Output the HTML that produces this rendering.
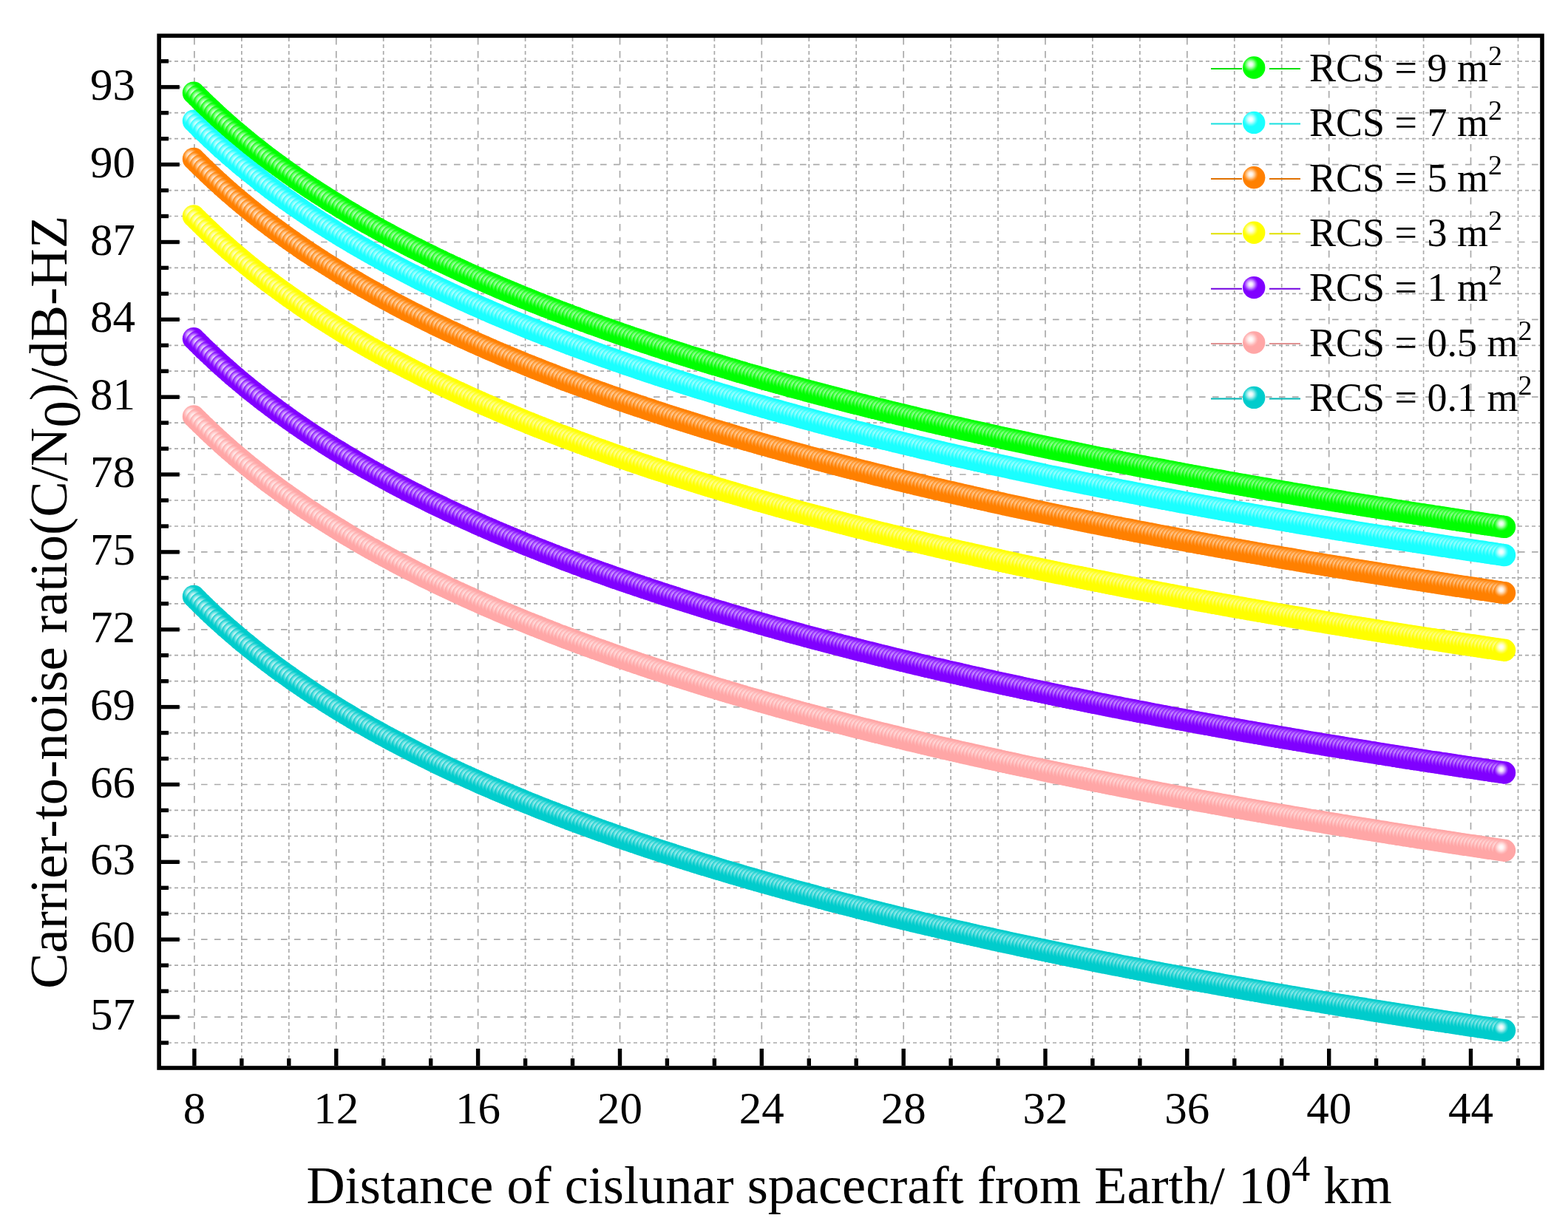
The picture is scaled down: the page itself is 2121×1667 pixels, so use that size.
<!DOCTYPE html><html><head><meta charset="utf-8"><title>Carrier-to-noise ratio vs distance</title><style>html,body{margin:0;padding:0;background:#fff;width:2121px;height:1667px;overflow:hidden}svg{display:block}text{font-family:"Liberation Serif","Times New Roman",serif;fill:#000}</style></head><body>
<svg width="2121" height="1667" viewBox="0 0 2121 1667">
<defs>
<radialGradient id="rg" cx="0.355" cy="0.355" r="0.5" fx="0.355" fy="0.355"><stop offset="0" stop-color="#ffffff"/><stop offset="0.18" stop-color="#e0ffe0"/><stop offset="0.36" stop-color="#8cff8c"/><stop offset="0.52" stop-color="#33ff33"/><stop offset="0.66" stop-color="#00ff00"/><stop offset="1" stop-color="#00ff00"/></radialGradient>
<radialGradient id="rc" cx="0.355" cy="0.355" r="0.5" fx="0.355" fy="0.355"><stop offset="0" stop-color="#ffffff"/><stop offset="0.18" stop-color="#e4ffff"/><stop offset="0.36" stop-color="#98ffff"/><stop offset="0.52" stop-color="#48ffff"/><stop offset="0.66" stop-color="#1affff"/><stop offset="1" stop-color="#1affff"/></radialGradient>
<radialGradient id="ro" cx="0.355" cy="0.355" r="0.5" fx="0.355" fy="0.355"><stop offset="0" stop-color="#ffffff"/><stop offset="0.18" stop-color="#fff0e0"/><stop offset="0.36" stop-color="#ffc68c"/><stop offset="0.52" stop-color="#ff9933"/><stop offset="0.66" stop-color="#ff8000"/><stop offset="1" stop-color="#ff8000"/></radialGradient>
<radialGradient id="ry" cx="0.355" cy="0.355" r="0.5" fx="0.355" fy="0.355"><stop offset="0" stop-color="#ffffff"/><stop offset="0.18" stop-color="#ffffe0"/><stop offset="0.36" stop-color="#ffff8c"/><stop offset="0.52" stop-color="#ffff33"/><stop offset="0.66" stop-color="#ffff00"/><stop offset="1" stop-color="#ffff00"/></radialGradient>
<radialGradient id="rp" cx="0.355" cy="0.355" r="0.5" fx="0.355" fy="0.355"><stop offset="0" stop-color="#ffffff"/><stop offset="0.18" stop-color="#f0e0ff"/><stop offset="0.36" stop-color="#c68cff"/><stop offset="0.52" stop-color="#9933ff"/><stop offset="0.66" stop-color="#8000ff"/><stop offset="1" stop-color="#8000ff"/></radialGradient>
<radialGradient id="rk" cx="0.355" cy="0.355" r="0.5" fx="0.355" fy="0.355"><stop offset="0" stop-color="#ffffff"/><stop offset="0.18" stop-color="#fff4f4"/><stop offset="0.36" stop-color="#ffd7d7"/><stop offset="0.52" stop-color="#ffb8b8"/><stop offset="0.66" stop-color="#ffa6a6"/><stop offset="1" stop-color="#ffa6a6"/></radialGradient>
<radialGradient id="rt" cx="0.355" cy="0.355" r="0.5" fx="0.355" fy="0.355"><stop offset="0" stop-color="#ffffff"/><stop offset="0.18" stop-color="#e0f9f9"/><stop offset="0.36" stop-color="#8ce8e8"/><stop offset="0.52" stop-color="#33d6d6"/><stop offset="0.66" stop-color="#00cccc"/><stop offset="1" stop-color="#00cccc"/></radialGradient>
</defs>
<g stroke="#aaaaaa" stroke-width="1.7" fill="none">
<line x1="262.9" y1="51.1" x2="262.9" y2="1442.2" stroke-dasharray="9.4 8.6"/>
<line x1="454.8" y1="51.1" x2="454.8" y2="1442.2" stroke-dasharray="9.4 8.6"/>
<line x1="646.6" y1="51.1" x2="646.6" y2="1442.2" stroke-dasharray="9.4 8.6"/>
<line x1="838.5" y1="51.1" x2="838.5" y2="1442.2" stroke-dasharray="9.4 8.6"/>
<line x1="1030.3" y1="51.1" x2="1030.3" y2="1442.2" stroke-dasharray="9.4 8.6"/>
<line x1="1222.2" y1="51.1" x2="1222.2" y2="1442.2" stroke-dasharray="9.4 8.6"/>
<line x1="1414.0" y1="51.1" x2="1414.0" y2="1442.2" stroke-dasharray="9.4 8.6"/>
<line x1="1605.8" y1="51.1" x2="1605.8" y2="1442.2" stroke-dasharray="9.4 8.6"/>
<line x1="1797.7" y1="51.1" x2="1797.7" y2="1442.2" stroke-dasharray="9.4 8.6"/>
<line x1="1989.5" y1="51.1" x2="1989.5" y2="1442.2" stroke-dasharray="9.4 8.6"/>
<line x1="326.9" y1="51.1" x2="326.9" y2="1442.2" stroke-dasharray="4.8 4.2"/>
<line x1="390.8" y1="51.1" x2="390.8" y2="1442.2" stroke-dasharray="4.8 4.2"/>
<line x1="518.7" y1="51.1" x2="518.7" y2="1442.2" stroke-dasharray="4.8 4.2"/>
<line x1="582.7" y1="51.1" x2="582.7" y2="1442.2" stroke-dasharray="4.8 4.2"/>
<line x1="710.6" y1="51.1" x2="710.6" y2="1442.2" stroke-dasharray="4.8 4.2"/>
<line x1="774.5" y1="51.1" x2="774.5" y2="1442.2" stroke-dasharray="4.8 4.2"/>
<line x1="902.4" y1="51.1" x2="902.4" y2="1442.2" stroke-dasharray="4.8 4.2"/>
<line x1="966.4" y1="51.1" x2="966.4" y2="1442.2" stroke-dasharray="4.8 4.2"/>
<line x1="1094.3" y1="51.1" x2="1094.3" y2="1442.2" stroke-dasharray="4.8 4.2"/>
<line x1="1158.2" y1="51.1" x2="1158.2" y2="1442.2" stroke-dasharray="4.8 4.2"/>
<line x1="1286.1" y1="51.1" x2="1286.1" y2="1442.2" stroke-dasharray="4.8 4.2"/>
<line x1="1350.0" y1="51.1" x2="1350.0" y2="1442.2" stroke-dasharray="4.8 4.2"/>
<line x1="1477.9" y1="51.1" x2="1477.9" y2="1442.2" stroke-dasharray="4.8 4.2"/>
<line x1="1541.9" y1="51.1" x2="1541.9" y2="1442.2" stroke-dasharray="4.8 4.2"/>
<line x1="1669.8" y1="51.1" x2="1669.8" y2="1442.2" stroke-dasharray="4.8 4.2"/>
<line x1="1733.7" y1="51.1" x2="1733.7" y2="1442.2" stroke-dasharray="4.8 4.2"/>
<line x1="1861.6" y1="51.1" x2="1861.6" y2="1442.2" stroke-dasharray="4.8 4.2"/>
<line x1="1925.6" y1="51.1" x2="1925.6" y2="1442.2" stroke-dasharray="4.8 4.2"/>
<line x1="2053.5" y1="51.1" x2="2053.5" y2="1442.2" stroke-dasharray="4.8 4.2"/>
<line x1="218.0" y1="1376.1" x2="2083.2" y2="1376.1" stroke-dasharray="8.6 9.4"/>
<line x1="218.0" y1="1271.2" x2="2083.2" y2="1271.2" stroke-dasharray="8.6 9.4"/>
<line x1="218.0" y1="1166.3" x2="2083.2" y2="1166.3" stroke-dasharray="8.6 9.4"/>
<line x1="218.0" y1="1061.5" x2="2083.2" y2="1061.5" stroke-dasharray="8.6 9.4"/>
<line x1="218.0" y1="956.6" x2="2083.2" y2="956.6" stroke-dasharray="8.6 9.4"/>
<line x1="218.0" y1="851.8" x2="2083.2" y2="851.8" stroke-dasharray="8.6 9.4"/>
<line x1="218.0" y1="746.9" x2="2083.2" y2="746.9" stroke-dasharray="8.6 9.4"/>
<line x1="218.0" y1="642.0" x2="2083.2" y2="642.0" stroke-dasharray="8.6 9.4"/>
<line x1="218.0" y1="537.2" x2="2083.2" y2="537.2" stroke-dasharray="8.6 9.4"/>
<line x1="218.0" y1="432.3" x2="2083.2" y2="432.3" stroke-dasharray="8.6 9.4"/>
<line x1="218.0" y1="327.5" x2="2083.2" y2="327.5" stroke-dasharray="8.6 9.4"/>
<line x1="218.0" y1="222.6" x2="2083.2" y2="222.6" stroke-dasharray="8.6 9.4"/>
<line x1="218.0" y1="117.8" x2="2083.2" y2="117.8" stroke-dasharray="8.6 9.4"/>
<line x1="218.0" y1="1411.0" x2="2083.2" y2="1411.0" stroke-dasharray="5 4"/>
<line x1="218.0" y1="1341.1" x2="2083.2" y2="1341.1" stroke-dasharray="5 4"/>
<line x1="218.0" y1="1306.2" x2="2083.2" y2="1306.2" stroke-dasharray="5 4"/>
<line x1="218.0" y1="1236.2" x2="2083.2" y2="1236.2" stroke-dasharray="5 4"/>
<line x1="218.0" y1="1201.3" x2="2083.2" y2="1201.3" stroke-dasharray="5 4"/>
<line x1="218.0" y1="1131.4" x2="2083.2" y2="1131.4" stroke-dasharray="5 4"/>
<line x1="218.0" y1="1096.4" x2="2083.2" y2="1096.4" stroke-dasharray="5 4"/>
<line x1="218.0" y1="1026.5" x2="2083.2" y2="1026.5" stroke-dasharray="5 4"/>
<line x1="218.0" y1="991.6" x2="2083.2" y2="991.6" stroke-dasharray="5 4"/>
<line x1="218.0" y1="921.7" x2="2083.2" y2="921.7" stroke-dasharray="5 4"/>
<line x1="218.0" y1="886.7" x2="2083.2" y2="886.7" stroke-dasharray="5 4"/>
<line x1="218.0" y1="816.8" x2="2083.2" y2="816.8" stroke-dasharray="5 4"/>
<line x1="218.0" y1="781.9" x2="2083.2" y2="781.9" stroke-dasharray="5 4"/>
<line x1="218.0" y1="712.0" x2="2083.2" y2="712.0" stroke-dasharray="5 4"/>
<line x1="218.0" y1="677.0" x2="2083.2" y2="677.0" stroke-dasharray="5 4"/>
<line x1="218.0" y1="607.1" x2="2083.2" y2="607.1" stroke-dasharray="5 4"/>
<line x1="218.0" y1="572.1" x2="2083.2" y2="572.1" stroke-dasharray="5 4"/>
<line x1="218.0" y1="502.2" x2="2083.2" y2="502.2" stroke-dasharray="5 4"/>
<line x1="218.0" y1="467.3" x2="2083.2" y2="467.3" stroke-dasharray="5 4"/>
<line x1="218.0" y1="397.4" x2="2083.2" y2="397.4" stroke-dasharray="5 4"/>
<line x1="218.0" y1="362.4" x2="2083.2" y2="362.4" stroke-dasharray="5 4"/>
<line x1="218.0" y1="292.5" x2="2083.2" y2="292.5" stroke-dasharray="5 4"/>
<line x1="218.0" y1="257.6" x2="2083.2" y2="257.6" stroke-dasharray="5 4"/>
<line x1="218.0" y1="187.7" x2="2083.2" y2="187.7" stroke-dasharray="5 4"/>
<line x1="218.0" y1="152.7" x2="2083.2" y2="152.7" stroke-dasharray="5 4"/>
<line x1="218.0" y1="82.8" x2="2083.2" y2="82.8" stroke-dasharray="5 4"/>
</g>
<g fill="url(#rt)">
<circle cx="262.0" cy="807.0" r="15.2"/><circle cx="266.8" cy="811.8" r="15.2"/><circle cx="271.6" cy="816.6" r="15.2"/><circle cx="276.4" cy="821.3" r="15.2"/><circle cx="281.2" cy="825.9" r="15.2"/><circle cx="286.0" cy="830.4" r="15.2"/><circle cx="290.8" cy="834.9" r="15.2"/><circle cx="295.5" cy="839.3" r="15.2"/><circle cx="300.3" cy="843.6" r="15.2"/><circle cx="305.1" cy="847.9" r="15.2"/><circle cx="309.9" cy="852.1" r="15.2"/><circle cx="314.7" cy="856.2" r="15.2"/><circle cx="319.5" cy="860.3" r="15.2"/><circle cx="324.3" cy="864.4" r="15.2"/><circle cx="329.1" cy="868.4" r="15.2"/><circle cx="333.9" cy="872.3" r="15.2"/><circle cx="338.7" cy="876.2" r="15.2"/><circle cx="343.5" cy="880.1" r="15.2"/><circle cx="348.3" cy="883.9" r="15.2"/><circle cx="353.0" cy="887.6" r="15.2"/><circle cx="357.8" cy="891.3" r="15.2"/><circle cx="362.6" cy="895.0" r="15.2"/><circle cx="367.4" cy="898.6" r="15.2"/><circle cx="372.2" cy="902.2" r="15.2"/><circle cx="377.0" cy="905.7" r="15.2"/><circle cx="381.8" cy="909.2" r="15.2"/><circle cx="386.6" cy="912.6" r="15.2"/><circle cx="391.4" cy="916.0" r="15.2"/><circle cx="396.2" cy="919.4" r="15.2"/><circle cx="401.0" cy="922.7" r="15.2"/><circle cx="405.8" cy="926.0" r="15.2"/><circle cx="410.5" cy="929.3" r="15.2"/><circle cx="415.3" cy="932.5" r="15.2"/><circle cx="420.1" cy="935.7" r="15.2"/><circle cx="424.9" cy="938.9" r="15.2"/><circle cx="429.7" cy="942.0" r="15.2"/><circle cx="434.5" cy="945.1" r="15.2"/><circle cx="439.3" cy="948.2" r="15.2"/><circle cx="444.1" cy="951.2" r="15.2"/><circle cx="448.9" cy="954.2" r="15.2"/><circle cx="453.7" cy="957.2" r="15.2"/><circle cx="458.5" cy="960.2" r="15.2"/><circle cx="463.3" cy="963.1" r="15.2"/><circle cx="468.1" cy="966.0" r="15.2"/><circle cx="472.8" cy="968.8" r="15.2"/><circle cx="477.6" cy="971.7" r="15.2"/><circle cx="482.4" cy="974.5" r="15.2"/><circle cx="487.2" cy="977.3" r="15.2"/><circle cx="492.0" cy="980.0" r="15.2"/><circle cx="496.8" cy="982.8" r="15.2"/><circle cx="501.6" cy="985.5" r="15.2"/><circle cx="506.4" cy="988.2" r="15.2"/><circle cx="511.2" cy="990.8" r="15.2"/><circle cx="516.0" cy="993.5" r="15.2"/><circle cx="520.8" cy="996.1" r="15.2"/><circle cx="525.6" cy="998.7" r="15.2"/><circle cx="530.3" cy="1001.2" r="15.2"/><circle cx="535.1" cy="1003.8" r="15.2"/><circle cx="539.9" cy="1006.3" r="15.2"/><circle cx="544.7" cy="1008.8" r="15.2"/><circle cx="549.5" cy="1011.3" r="15.2"/><circle cx="554.3" cy="1013.8" r="15.2"/><circle cx="559.1" cy="1016.2" r="15.2"/><circle cx="563.9" cy="1018.7" r="15.2"/><circle cx="568.7" cy="1021.1" r="15.2"/><circle cx="573.5" cy="1023.5" r="15.2"/><circle cx="578.3" cy="1025.8" r="15.2"/><circle cx="583.1" cy="1028.2" r="15.2"/><circle cx="587.8" cy="1030.5" r="15.2"/><circle cx="592.6" cy="1032.9" r="15.2"/><circle cx="597.4" cy="1035.2" r="15.2"/><circle cx="602.2" cy="1037.4" r="15.2"/><circle cx="607.0" cy="1039.7" r="15.2"/><circle cx="611.8" cy="1041.9" r="15.2"/><circle cx="616.6" cy="1044.2" r="15.2"/><circle cx="621.4" cy="1046.4" r="15.2"/><circle cx="626.2" cy="1048.6" r="15.2"/><circle cx="631.0" cy="1050.8" r="15.2"/><circle cx="635.8" cy="1052.9" r="15.2"/><circle cx="640.6" cy="1055.1" r="15.2"/><circle cx="645.4" cy="1057.2" r="15.2"/><circle cx="650.1" cy="1059.4" r="15.2"/><circle cx="654.9" cy="1061.5" r="15.2"/><circle cx="659.7" cy="1063.6" r="15.2"/><circle cx="664.5" cy="1065.6" r="15.2"/><circle cx="669.3" cy="1067.7" r="15.2"/><circle cx="674.1" cy="1069.8" r="15.2"/><circle cx="678.9" cy="1071.8" r="15.2"/><circle cx="683.7" cy="1073.8" r="15.2"/><circle cx="688.5" cy="1075.8" r="15.2"/><circle cx="693.3" cy="1077.8" r="15.2"/><circle cx="698.1" cy="1079.8" r="15.2"/><circle cx="702.9" cy="1081.8" r="15.2"/><circle cx="707.6" cy="1083.7" r="15.2"/><circle cx="712.4" cy="1085.7" r="15.2"/><circle cx="717.2" cy="1087.6" r="15.2"/><circle cx="722.0" cy="1089.5" r="15.2"/><circle cx="726.8" cy="1091.5" r="15.2"/><circle cx="731.6" cy="1093.4" r="15.2"/><circle cx="736.4" cy="1095.2" r="15.2"/><circle cx="741.2" cy="1097.1" r="15.2"/><circle cx="746.0" cy="1099.0" r="15.2"/><circle cx="750.8" cy="1100.8" r="15.2"/><circle cx="755.6" cy="1102.7" r="15.2"/><circle cx="760.4" cy="1104.5" r="15.2"/><circle cx="765.1" cy="1106.3" r="15.2"/><circle cx="769.9" cy="1108.1" r="15.2"/><circle cx="774.7" cy="1109.9" r="15.2"/><circle cx="779.5" cy="1111.7" r="15.2"/><circle cx="784.3" cy="1113.5" r="15.2"/><circle cx="789.1" cy="1115.2" r="15.2"/><circle cx="793.9" cy="1117.0" r="15.2"/><circle cx="798.7" cy="1118.7" r="15.2"/><circle cx="803.5" cy="1120.5" r="15.2"/><circle cx="808.3" cy="1122.2" r="15.2"/><circle cx="813.1" cy="1123.9" r="15.2"/><circle cx="817.9" cy="1125.6" r="15.2"/><circle cx="822.7" cy="1127.3" r="15.2"/><circle cx="827.4" cy="1129.0" r="15.2"/><circle cx="832.2" cy="1130.7" r="15.2"/><circle cx="837.0" cy="1132.4" r="15.2"/><circle cx="841.8" cy="1134.0" r="15.2"/><circle cx="846.6" cy="1135.7" r="15.2"/><circle cx="851.4" cy="1137.3" r="15.2"/><circle cx="856.2" cy="1138.9" r="15.2"/><circle cx="861.0" cy="1140.6" r="15.2"/><circle cx="865.8" cy="1142.2" r="15.2"/><circle cx="870.6" cy="1143.8" r="15.2"/><circle cx="875.4" cy="1145.4" r="15.2"/><circle cx="880.2" cy="1147.0" r="15.2"/><circle cx="884.9" cy="1148.5" r="15.2"/><circle cx="889.7" cy="1150.1" r="15.2"/><circle cx="894.5" cy="1151.7" r="15.2"/><circle cx="899.3" cy="1153.2" r="15.2"/><circle cx="904.1" cy="1154.8" r="15.2"/><circle cx="908.9" cy="1156.3" r="15.2"/><circle cx="913.7" cy="1157.9" r="15.2"/><circle cx="918.5" cy="1159.4" r="15.2"/><circle cx="923.3" cy="1160.9" r="15.2"/><circle cx="928.1" cy="1162.4" r="15.2"/><circle cx="932.9" cy="1163.9" r="15.2"/><circle cx="937.7" cy="1165.4" r="15.2"/><circle cx="942.4" cy="1166.9" r="15.2"/><circle cx="947.2" cy="1168.4" r="15.2"/><circle cx="952.0" cy="1169.9" r="15.2"/><circle cx="956.8" cy="1171.3" r="15.2"/><circle cx="961.6" cy="1172.8" r="15.2"/><circle cx="966.4" cy="1174.2" r="15.2"/><circle cx="971.2" cy="1175.7" r="15.2"/><circle cx="976.0" cy="1177.1" r="15.2"/><circle cx="980.8" cy="1178.6" r="15.2"/><circle cx="985.6" cy="1180.0" r="15.2"/><circle cx="990.4" cy="1181.4" r="15.2"/><circle cx="995.2" cy="1182.8" r="15.2"/><circle cx="1000.0" cy="1184.2" r="15.2"/><circle cx="1004.7" cy="1185.6" r="15.2"/><circle cx="1009.5" cy="1187.0" r="15.2"/><circle cx="1014.3" cy="1188.4" r="15.2"/><circle cx="1019.1" cy="1189.8" r="15.2"/><circle cx="1023.9" cy="1191.2" r="15.2"/><circle cx="1028.7" cy="1192.5" r="15.2"/><circle cx="1033.5" cy="1193.9" r="15.2"/><circle cx="1038.3" cy="1195.2" r="15.2"/><circle cx="1043.1" cy="1196.6" r="15.2"/><circle cx="1047.9" cy="1197.9" r="15.2"/><circle cx="1052.7" cy="1199.3" r="15.2"/><circle cx="1057.5" cy="1200.6" r="15.2"/><circle cx="1062.2" cy="1201.9" r="15.2"/><circle cx="1067.0" cy="1203.2" r="15.2"/><circle cx="1071.8" cy="1204.6" r="15.2"/><circle cx="1076.6" cy="1205.9" r="15.2"/><circle cx="1081.4" cy="1207.2" r="15.2"/><circle cx="1086.2" cy="1208.5" r="15.2"/><circle cx="1091.0" cy="1209.8" r="15.2"/><circle cx="1095.8" cy="1211.0" r="15.2"/><circle cx="1100.6" cy="1212.3" r="15.2"/><circle cx="1105.4" cy="1213.6" r="15.2"/><circle cx="1110.2" cy="1214.9" r="15.2"/><circle cx="1115.0" cy="1216.1" r="15.2"/><circle cx="1119.7" cy="1217.4" r="15.2"/><circle cx="1124.5" cy="1218.7" r="15.2"/><circle cx="1129.3" cy="1219.9" r="15.2"/><circle cx="1134.1" cy="1221.1" r="15.2"/><circle cx="1138.9" cy="1222.4" r="15.2"/><circle cx="1143.7" cy="1223.6" r="15.2"/><circle cx="1148.5" cy="1224.8" r="15.2"/><circle cx="1153.3" cy="1226.1" r="15.2"/><circle cx="1158.1" cy="1227.3" r="15.2"/><circle cx="1162.9" cy="1228.5" r="15.2"/><circle cx="1167.7" cy="1229.7" r="15.2"/><circle cx="1172.5" cy="1230.9" r="15.2"/><circle cx="1177.3" cy="1232.1" r="15.2"/><circle cx="1182.0" cy="1233.3" r="15.2"/><circle cx="1186.8" cy="1234.5" r="15.2"/><circle cx="1191.6" cy="1235.7" r="15.2"/><circle cx="1196.4" cy="1236.9" r="15.2"/><circle cx="1201.2" cy="1238.0" r="15.2"/><circle cx="1206.0" cy="1239.2" r="15.2"/><circle cx="1210.8" cy="1240.4" r="15.2"/><circle cx="1215.6" cy="1241.6" r="15.2"/><circle cx="1220.4" cy="1242.7" r="15.2"/><circle cx="1225.2" cy="1243.9" r="15.2"/><circle cx="1230.0" cy="1245.0" r="15.2"/><circle cx="1234.8" cy="1246.2" r="15.2"/><circle cx="1239.5" cy="1247.3" r="15.2"/><circle cx="1244.3" cy="1248.4" r="15.2"/><circle cx="1249.1" cy="1249.6" r="15.2"/><circle cx="1253.9" cy="1250.7" r="15.2"/><circle cx="1258.7" cy="1251.8" r="15.2"/><circle cx="1263.5" cy="1252.9" r="15.2"/><circle cx="1268.3" cy="1254.1" r="15.2"/><circle cx="1273.1" cy="1255.2" r="15.2"/><circle cx="1277.9" cy="1256.3" r="15.2"/><circle cx="1282.7" cy="1257.4" r="15.2"/><circle cx="1287.5" cy="1258.5" r="15.2"/><circle cx="1292.3" cy="1259.6" r="15.2"/><circle cx="1297.0" cy="1260.7" r="15.2"/><circle cx="1301.8" cy="1261.8" r="15.2"/><circle cx="1306.6" cy="1262.8" r="15.2"/><circle cx="1311.4" cy="1263.9" r="15.2"/><circle cx="1316.2" cy="1265.0" r="15.2"/><circle cx="1321.0" cy="1266.1" r="15.2"/><circle cx="1325.8" cy="1267.1" r="15.2"/><circle cx="1330.6" cy="1268.2" r="15.2"/><circle cx="1335.4" cy="1269.3" r="15.2"/><circle cx="1340.2" cy="1270.3" r="15.2"/><circle cx="1345.0" cy="1271.4" r="15.2"/><circle cx="1349.8" cy="1272.4" r="15.2"/><circle cx="1354.6" cy="1273.5" r="15.2"/><circle cx="1359.3" cy="1274.5" r="15.2"/><circle cx="1364.1" cy="1275.6" r="15.2"/><circle cx="1368.9" cy="1276.6" r="15.2"/><circle cx="1373.7" cy="1277.6" r="15.2"/><circle cx="1378.5" cy="1278.7" r="15.2"/><circle cx="1383.3" cy="1279.7" r="15.2"/><circle cx="1388.1" cy="1280.7" r="15.2"/><circle cx="1392.9" cy="1281.7" r="15.2"/><circle cx="1397.7" cy="1282.7" r="15.2"/><circle cx="1402.5" cy="1283.8" r="15.2"/><circle cx="1407.3" cy="1284.8" r="15.2"/><circle cx="1412.1" cy="1285.8" r="15.2"/><circle cx="1416.8" cy="1286.8" r="15.2"/><circle cx="1421.6" cy="1287.8" r="15.2"/><circle cx="1426.4" cy="1288.8" r="15.2"/><circle cx="1431.2" cy="1289.8" r="15.2"/><circle cx="1436.0" cy="1290.7" r="15.2"/><circle cx="1440.8" cy="1291.7" r="15.2"/><circle cx="1445.6" cy="1292.7" r="15.2"/><circle cx="1450.4" cy="1293.7" r="15.2"/><circle cx="1455.2" cy="1294.7" r="15.2"/><circle cx="1460.0" cy="1295.6" r="15.2"/><circle cx="1464.8" cy="1296.6" r="15.2"/><circle cx="1469.6" cy="1297.6" r="15.2"/><circle cx="1474.3" cy="1298.5" r="15.2"/><circle cx="1479.1" cy="1299.5" r="15.2"/><circle cx="1483.9" cy="1300.5" r="15.2"/><circle cx="1488.7" cy="1301.4" r="15.2"/><circle cx="1493.5" cy="1302.4" r="15.2"/><circle cx="1498.3" cy="1303.3" r="15.2"/><circle cx="1503.1" cy="1304.3" r="15.2"/><circle cx="1507.9" cy="1305.2" r="15.2"/><circle cx="1512.7" cy="1306.1" r="15.2"/><circle cx="1517.5" cy="1307.1" r="15.2"/><circle cx="1522.3" cy="1308.0" r="15.2"/><circle cx="1527.1" cy="1308.9" r="15.2"/><circle cx="1531.9" cy="1309.9" r="15.2"/><circle cx="1536.6" cy="1310.8" r="15.2"/><circle cx="1541.4" cy="1311.7" r="15.2"/><circle cx="1546.2" cy="1312.6" r="15.2"/><circle cx="1551.0" cy="1313.6" r="15.2"/><circle cx="1555.8" cy="1314.5" r="15.2"/><circle cx="1560.6" cy="1315.4" r="15.2"/><circle cx="1565.4" cy="1316.3" r="15.2"/><circle cx="1570.2" cy="1317.2" r="15.2"/><circle cx="1575.0" cy="1318.1" r="15.2"/><circle cx="1579.8" cy="1319.0" r="15.2"/><circle cx="1584.6" cy="1319.9" r="15.2"/><circle cx="1589.4" cy="1320.8" r="15.2"/><circle cx="1594.1" cy="1321.7" r="15.2"/><circle cx="1598.9" cy="1322.6" r="15.2"/><circle cx="1603.7" cy="1323.5" r="15.2"/><circle cx="1608.5" cy="1324.4" r="15.2"/><circle cx="1613.3" cy="1325.2" r="15.2"/><circle cx="1618.1" cy="1326.1" r="15.2"/><circle cx="1622.9" cy="1327.0" r="15.2"/><circle cx="1627.7" cy="1327.9" r="15.2"/><circle cx="1632.5" cy="1328.7" r="15.2"/><circle cx="1637.3" cy="1329.6" r="15.2"/><circle cx="1642.1" cy="1330.5" r="15.2"/><circle cx="1646.9" cy="1331.3" r="15.2"/><circle cx="1651.6" cy="1332.2" r="15.2"/><circle cx="1656.4" cy="1333.1" r="15.2"/><circle cx="1661.2" cy="1333.9" r="15.2"/><circle cx="1666.0" cy="1334.8" r="15.2"/><circle cx="1670.8" cy="1335.6" r="15.2"/><circle cx="1675.6" cy="1336.5" r="15.2"/><circle cx="1680.4" cy="1337.3" r="15.2"/><circle cx="1685.2" cy="1338.2" r="15.2"/><circle cx="1690.0" cy="1339.0" r="15.2"/><circle cx="1694.8" cy="1339.9" r="15.2"/><circle cx="1699.6" cy="1340.7" r="15.2"/><circle cx="1704.4" cy="1341.5" r="15.2"/><circle cx="1709.2" cy="1342.4" r="15.2"/><circle cx="1713.9" cy="1343.2" r="15.2"/><circle cx="1718.7" cy="1344.0" r="15.2"/><circle cx="1723.5" cy="1344.9" r="15.2"/><circle cx="1728.3" cy="1345.7" r="15.2"/><circle cx="1733.1" cy="1346.5" r="15.2"/><circle cx="1737.9" cy="1347.3" r="15.2"/><circle cx="1742.7" cy="1348.1" r="15.2"/><circle cx="1747.5" cy="1349.0" r="15.2"/><circle cx="1752.3" cy="1349.8" r="15.2"/><circle cx="1757.1" cy="1350.6" r="15.2"/><circle cx="1761.9" cy="1351.4" r="15.2"/><circle cx="1766.7" cy="1352.2" r="15.2"/><circle cx="1771.4" cy="1353.0" r="15.2"/><circle cx="1776.2" cy="1353.8" r="15.2"/><circle cx="1781.0" cy="1354.6" r="15.2"/><circle cx="1785.8" cy="1355.4" r="15.2"/><circle cx="1790.6" cy="1356.2" r="15.2"/><circle cx="1795.4" cy="1357.0" r="15.2"/><circle cx="1800.2" cy="1357.8" r="15.2"/><circle cx="1805.0" cy="1358.6" r="15.2"/><circle cx="1809.8" cy="1359.4" r="15.2"/><circle cx="1814.6" cy="1360.2" r="15.2"/><circle cx="1819.4" cy="1361.0" r="15.2"/><circle cx="1824.2" cy="1361.7" r="15.2"/><circle cx="1828.9" cy="1362.5" r="15.2"/><circle cx="1833.7" cy="1363.3" r="15.2"/><circle cx="1838.5" cy="1364.1" r="15.2"/><circle cx="1843.3" cy="1364.8" r="15.2"/><circle cx="1848.1" cy="1365.6" r="15.2"/><circle cx="1852.9" cy="1366.4" r="15.2"/><circle cx="1857.7" cy="1367.2" r="15.2"/><circle cx="1862.5" cy="1367.9" r="15.2"/><circle cx="1867.3" cy="1368.7" r="15.2"/><circle cx="1872.1" cy="1369.4" r="15.2"/><circle cx="1876.9" cy="1370.2" r="15.2"/><circle cx="1881.7" cy="1371.0" r="15.2"/><circle cx="1886.5" cy="1371.7" r="15.2"/><circle cx="1891.2" cy="1372.5" r="15.2"/><circle cx="1896.0" cy="1373.2" r="15.2"/><circle cx="1900.8" cy="1374.0" r="15.2"/><circle cx="1905.6" cy="1374.7" r="15.2"/><circle cx="1910.4" cy="1375.5" r="15.2"/><circle cx="1915.2" cy="1376.2" r="15.2"/><circle cx="1920.0" cy="1377.0" r="15.2"/><circle cx="1924.8" cy="1377.7" r="15.2"/><circle cx="1929.6" cy="1378.5" r="15.2"/><circle cx="1934.4" cy="1379.2" r="15.2"/><circle cx="1939.2" cy="1379.9" r="15.2"/><circle cx="1944.0" cy="1380.7" r="15.2"/><circle cx="1948.7" cy="1381.4" r="15.2"/><circle cx="1953.5" cy="1382.1" r="15.2"/><circle cx="1958.3" cy="1382.9" r="15.2"/><circle cx="1963.1" cy="1383.6" r="15.2"/><circle cx="1967.9" cy="1384.3" r="15.2"/><circle cx="1972.7" cy="1385.0" r="15.2"/><circle cx="1977.5" cy="1385.8" r="15.2"/><circle cx="1982.3" cy="1386.5" r="15.2"/><circle cx="1987.1" cy="1387.2" r="15.2"/><circle cx="1991.9" cy="1387.9" r="15.2"/><circle cx="1996.7" cy="1388.6" r="15.2"/><circle cx="2001.5" cy="1389.4" r="15.2"/><circle cx="2006.2" cy="1390.1" r="15.2"/><circle cx="2011.0" cy="1390.8" r="15.2"/><circle cx="2015.8" cy="1391.5" r="15.2"/><circle cx="2020.6" cy="1392.2" r="15.2"/><circle cx="2025.4" cy="1392.9" r="15.2"/><circle cx="2030.2" cy="1393.6" r="15.2"/><circle cx="2035.0" cy="1394.3" r="15.2"/>
</g>
<g fill="url(#rk)">
<circle cx="262.0" cy="563.4" r="15.2"/><circle cx="266.8" cy="568.2" r="15.2"/><circle cx="271.6" cy="573.0" r="15.2"/><circle cx="276.4" cy="577.6" r="15.2"/><circle cx="281.2" cy="582.2" r="15.2"/><circle cx="286.0" cy="586.8" r="15.2"/><circle cx="290.8" cy="591.2" r="15.2"/><circle cx="295.5" cy="595.6" r="15.2"/><circle cx="300.3" cy="600.0" r="15.2"/><circle cx="305.1" cy="604.3" r="15.2"/><circle cx="309.9" cy="608.5" r="15.2"/><circle cx="314.7" cy="612.6" r="15.2"/><circle cx="319.5" cy="616.7" r="15.2"/><circle cx="324.3" cy="620.8" r="15.2"/><circle cx="329.1" cy="624.8" r="15.2"/><circle cx="333.9" cy="628.7" r="15.2"/><circle cx="338.7" cy="632.6" r="15.2"/><circle cx="343.5" cy="636.5" r="15.2"/><circle cx="348.3" cy="640.2" r="15.2"/><circle cx="353.0" cy="644.0" r="15.2"/><circle cx="357.8" cy="647.7" r="15.2"/><circle cx="362.6" cy="651.4" r="15.2"/><circle cx="367.4" cy="655.0" r="15.2"/><circle cx="372.2" cy="658.5" r="15.2"/><circle cx="377.0" cy="662.1" r="15.2"/><circle cx="381.8" cy="665.6" r="15.2"/><circle cx="386.6" cy="669.0" r="15.2"/><circle cx="391.4" cy="672.4" r="15.2"/><circle cx="396.2" cy="675.8" r="15.2"/><circle cx="401.0" cy="679.1" r="15.2"/><circle cx="405.8" cy="682.4" r="15.2"/><circle cx="410.5" cy="685.7" r="15.2"/><circle cx="415.3" cy="688.9" r="15.2"/><circle cx="420.1" cy="692.1" r="15.2"/><circle cx="424.9" cy="695.3" r="15.2"/><circle cx="429.7" cy="698.4" r="15.2"/><circle cx="434.5" cy="701.5" r="15.2"/><circle cx="439.3" cy="704.6" r="15.2"/><circle cx="444.1" cy="707.6" r="15.2"/><circle cx="448.9" cy="710.6" r="15.2"/><circle cx="453.7" cy="713.6" r="15.2"/><circle cx="458.5" cy="716.5" r="15.2"/><circle cx="463.3" cy="719.5" r="15.2"/><circle cx="468.1" cy="722.4" r="15.2"/><circle cx="472.8" cy="725.2" r="15.2"/><circle cx="477.6" cy="728.1" r="15.2"/><circle cx="482.4" cy="730.9" r="15.2"/><circle cx="487.2" cy="733.7" r="15.2"/><circle cx="492.0" cy="736.4" r="15.2"/><circle cx="496.8" cy="739.2" r="15.2"/><circle cx="501.6" cy="741.9" r="15.2"/><circle cx="506.4" cy="744.5" r="15.2"/><circle cx="511.2" cy="747.2" r="15.2"/><circle cx="516.0" cy="749.9" r="15.2"/><circle cx="520.8" cy="752.5" r="15.2"/><circle cx="525.6" cy="755.1" r="15.2"/><circle cx="530.3" cy="757.6" r="15.2"/><circle cx="535.1" cy="760.2" r="15.2"/><circle cx="539.9" cy="762.7" r="15.2"/><circle cx="544.7" cy="765.2" r="15.2"/><circle cx="549.5" cy="767.7" r="15.2"/><circle cx="554.3" cy="770.2" r="15.2"/><circle cx="559.1" cy="772.6" r="15.2"/><circle cx="563.9" cy="775.1" r="15.2"/><circle cx="568.7" cy="777.5" r="15.2"/><circle cx="573.5" cy="779.9" r="15.2"/><circle cx="578.3" cy="782.2" r="15.2"/><circle cx="583.1" cy="784.6" r="15.2"/><circle cx="587.8" cy="786.9" r="15.2"/><circle cx="592.6" cy="789.2" r="15.2"/><circle cx="597.4" cy="791.5" r="15.2"/><circle cx="602.2" cy="793.8" r="15.2"/><circle cx="607.0" cy="796.1" r="15.2"/><circle cx="611.8" cy="798.3" r="15.2"/><circle cx="616.6" cy="800.6" r="15.2"/><circle cx="621.4" cy="802.8" r="15.2"/><circle cx="626.2" cy="805.0" r="15.2"/><circle cx="631.0" cy="807.2" r="15.2"/><circle cx="635.8" cy="809.3" r="15.2"/><circle cx="640.6" cy="811.5" r="15.2"/><circle cx="645.4" cy="813.6" r="15.2"/><circle cx="650.1" cy="815.8" r="15.2"/><circle cx="654.9" cy="817.9" r="15.2"/><circle cx="659.7" cy="820.0" r="15.2"/><circle cx="664.5" cy="822.0" r="15.2"/><circle cx="669.3" cy="824.1" r="15.2"/><circle cx="674.1" cy="826.2" r="15.2"/><circle cx="678.9" cy="828.2" r="15.2"/><circle cx="683.7" cy="830.2" r="15.2"/><circle cx="688.5" cy="832.2" r="15.2"/><circle cx="693.3" cy="834.2" r="15.2"/><circle cx="698.1" cy="836.2" r="15.2"/><circle cx="702.9" cy="838.2" r="15.2"/><circle cx="707.6" cy="840.1" r="15.2"/><circle cx="712.4" cy="842.1" r="15.2"/><circle cx="717.2" cy="844.0" r="15.2"/><circle cx="722.0" cy="845.9" r="15.2"/><circle cx="726.8" cy="847.8" r="15.2"/><circle cx="731.6" cy="849.7" r="15.2"/><circle cx="736.4" cy="851.6" r="15.2"/><circle cx="741.2" cy="853.5" r="15.2"/><circle cx="746.0" cy="855.4" r="15.2"/><circle cx="750.8" cy="857.2" r="15.2"/><circle cx="755.6" cy="859.1" r="15.2"/><circle cx="760.4" cy="860.9" r="15.2"/><circle cx="765.1" cy="862.7" r="15.2"/><circle cx="769.9" cy="864.5" r="15.2"/><circle cx="774.7" cy="866.3" r="15.2"/><circle cx="779.5" cy="868.1" r="15.2"/><circle cx="784.3" cy="869.9" r="15.2"/><circle cx="789.1" cy="871.6" r="15.2"/><circle cx="793.9" cy="873.4" r="15.2"/><circle cx="798.7" cy="875.1" r="15.2"/><circle cx="803.5" cy="876.9" r="15.2"/><circle cx="808.3" cy="878.6" r="15.2"/><circle cx="813.1" cy="880.3" r="15.2"/><circle cx="817.9" cy="882.0" r="15.2"/><circle cx="822.7" cy="883.7" r="15.2"/><circle cx="827.4" cy="885.4" r="15.2"/><circle cx="832.2" cy="887.1" r="15.2"/><circle cx="837.0" cy="888.7" r="15.2"/><circle cx="841.8" cy="890.4" r="15.2"/><circle cx="846.6" cy="892.1" r="15.2"/><circle cx="851.4" cy="893.7" r="15.2"/><circle cx="856.2" cy="895.3" r="15.2"/><circle cx="861.0" cy="896.9" r="15.2"/><circle cx="865.8" cy="898.6" r="15.2"/><circle cx="870.6" cy="900.2" r="15.2"/><circle cx="875.4" cy="901.8" r="15.2"/><circle cx="880.2" cy="903.4" r="15.2"/><circle cx="884.9" cy="904.9" r="15.2"/><circle cx="889.7" cy="906.5" r="15.2"/><circle cx="894.5" cy="908.1" r="15.2"/><circle cx="899.3" cy="909.6" r="15.2"/><circle cx="904.1" cy="911.2" r="15.2"/><circle cx="908.9" cy="912.7" r="15.2"/><circle cx="913.7" cy="914.3" r="15.2"/><circle cx="918.5" cy="915.8" r="15.2"/><circle cx="923.3" cy="917.3" r="15.2"/><circle cx="928.1" cy="918.8" r="15.2"/><circle cx="932.9" cy="920.3" r="15.2"/><circle cx="937.7" cy="921.8" r="15.2"/><circle cx="942.4" cy="923.3" r="15.2"/><circle cx="947.2" cy="924.8" r="15.2"/><circle cx="952.0" cy="926.3" r="15.2"/><circle cx="956.8" cy="927.7" r="15.2"/><circle cx="961.6" cy="929.2" r="15.2"/><circle cx="966.4" cy="930.6" r="15.2"/><circle cx="971.2" cy="932.1" r="15.2"/><circle cx="976.0" cy="933.5" r="15.2"/><circle cx="980.8" cy="934.9" r="15.2"/><circle cx="985.6" cy="936.4" r="15.2"/><circle cx="990.4" cy="937.8" r="15.2"/><circle cx="995.2" cy="939.2" r="15.2"/><circle cx="1000.0" cy="940.6" r="15.2"/><circle cx="1004.7" cy="942.0" r="15.2"/><circle cx="1009.5" cy="943.4" r="15.2"/><circle cx="1014.3" cy="944.8" r="15.2"/><circle cx="1019.1" cy="946.2" r="15.2"/><circle cx="1023.9" cy="947.5" r="15.2"/><circle cx="1028.7" cy="948.9" r="15.2"/><circle cx="1033.5" cy="950.3" r="15.2"/><circle cx="1038.3" cy="951.6" r="15.2"/><circle cx="1043.1" cy="953.0" r="15.2"/><circle cx="1047.9" cy="954.3" r="15.2"/><circle cx="1052.7" cy="955.7" r="15.2"/><circle cx="1057.5" cy="957.0" r="15.2"/><circle cx="1062.2" cy="958.3" r="15.2"/><circle cx="1067.0" cy="959.6" r="15.2"/><circle cx="1071.8" cy="960.9" r="15.2"/><circle cx="1076.6" cy="962.3" r="15.2"/><circle cx="1081.4" cy="963.6" r="15.2"/><circle cx="1086.2" cy="964.9" r="15.2"/><circle cx="1091.0" cy="966.1" r="15.2"/><circle cx="1095.8" cy="967.4" r="15.2"/><circle cx="1100.6" cy="968.7" r="15.2"/><circle cx="1105.4" cy="970.0" r="15.2"/><circle cx="1110.2" cy="971.3" r="15.2"/><circle cx="1115.0" cy="972.5" r="15.2"/><circle cx="1119.7" cy="973.8" r="15.2"/><circle cx="1124.5" cy="975.0" r="15.2"/><circle cx="1129.3" cy="976.3" r="15.2"/><circle cx="1134.1" cy="977.5" r="15.2"/><circle cx="1138.9" cy="978.8" r="15.2"/><circle cx="1143.7" cy="980.0" r="15.2"/><circle cx="1148.5" cy="981.2" r="15.2"/><circle cx="1153.3" cy="982.5" r="15.2"/><circle cx="1158.1" cy="983.7" r="15.2"/><circle cx="1162.9" cy="984.9" r="15.2"/><circle cx="1167.7" cy="986.1" r="15.2"/><circle cx="1172.5" cy="987.3" r="15.2"/><circle cx="1177.3" cy="988.5" r="15.2"/><circle cx="1182.0" cy="989.7" r="15.2"/><circle cx="1186.8" cy="990.9" r="15.2"/><circle cx="1191.6" cy="992.1" r="15.2"/><circle cx="1196.4" cy="993.3" r="15.2"/><circle cx="1201.2" cy="994.4" r="15.2"/><circle cx="1206.0" cy="995.6" r="15.2"/><circle cx="1210.8" cy="996.8" r="15.2"/><circle cx="1215.6" cy="997.9" r="15.2"/><circle cx="1220.4" cy="999.1" r="15.2"/><circle cx="1225.2" cy="1000.3" r="15.2"/><circle cx="1230.0" cy="1001.4" r="15.2"/><circle cx="1234.8" cy="1002.5" r="15.2"/><circle cx="1239.5" cy="1003.7" r="15.2"/><circle cx="1244.3" cy="1004.8" r="15.2"/><circle cx="1249.1" cy="1006.0" r="15.2"/><circle cx="1253.9" cy="1007.1" r="15.2"/><circle cx="1258.7" cy="1008.2" r="15.2"/><circle cx="1263.5" cy="1009.3" r="15.2"/><circle cx="1268.3" cy="1010.5" r="15.2"/><circle cx="1273.1" cy="1011.6" r="15.2"/><circle cx="1277.9" cy="1012.7" r="15.2"/><circle cx="1282.7" cy="1013.8" r="15.2"/><circle cx="1287.5" cy="1014.9" r="15.2"/><circle cx="1292.3" cy="1016.0" r="15.2"/><circle cx="1297.0" cy="1017.1" r="15.2"/><circle cx="1301.8" cy="1018.2" r="15.2"/><circle cx="1306.6" cy="1019.2" r="15.2"/><circle cx="1311.4" cy="1020.3" r="15.2"/><circle cx="1316.2" cy="1021.4" r="15.2"/><circle cx="1321.0" cy="1022.5" r="15.2"/><circle cx="1325.8" cy="1023.5" r="15.2"/><circle cx="1330.6" cy="1024.6" r="15.2"/><circle cx="1335.4" cy="1025.7" r="15.2"/><circle cx="1340.2" cy="1026.7" r="15.2"/><circle cx="1345.0" cy="1027.8" r="15.2"/><circle cx="1349.8" cy="1028.8" r="15.2"/><circle cx="1354.6" cy="1029.9" r="15.2"/><circle cx="1359.3" cy="1030.9" r="15.2"/><circle cx="1364.1" cy="1032.0" r="15.2"/><circle cx="1368.9" cy="1033.0" r="15.2"/><circle cx="1373.7" cy="1034.0" r="15.2"/><circle cx="1378.5" cy="1035.1" r="15.2"/><circle cx="1383.3" cy="1036.1" r="15.2"/><circle cx="1388.1" cy="1037.1" r="15.2"/><circle cx="1392.9" cy="1038.1" r="15.2"/><circle cx="1397.7" cy="1039.1" r="15.2"/><circle cx="1402.5" cy="1040.1" r="15.2"/><circle cx="1407.3" cy="1041.2" r="15.2"/><circle cx="1412.1" cy="1042.2" r="15.2"/><circle cx="1416.8" cy="1043.2" r="15.2"/><circle cx="1421.6" cy="1044.2" r="15.2"/><circle cx="1426.4" cy="1045.2" r="15.2"/><circle cx="1431.2" cy="1046.1" r="15.2"/><circle cx="1436.0" cy="1047.1" r="15.2"/><circle cx="1440.8" cy="1048.1" r="15.2"/><circle cx="1445.6" cy="1049.1" r="15.2"/><circle cx="1450.4" cy="1050.1" r="15.2"/><circle cx="1455.2" cy="1051.1" r="15.2"/><circle cx="1460.0" cy="1052.0" r="15.2"/><circle cx="1464.8" cy="1053.0" r="15.2"/><circle cx="1469.6" cy="1054.0" r="15.2"/><circle cx="1474.3" cy="1054.9" r="15.2"/><circle cx="1479.1" cy="1055.9" r="15.2"/><circle cx="1483.9" cy="1056.9" r="15.2"/><circle cx="1488.7" cy="1057.8" r="15.2"/><circle cx="1493.5" cy="1058.8" r="15.2"/><circle cx="1498.3" cy="1059.7" r="15.2"/><circle cx="1503.1" cy="1060.7" r="15.2"/><circle cx="1507.9" cy="1061.6" r="15.2"/><circle cx="1512.7" cy="1062.5" r="15.2"/><circle cx="1517.5" cy="1063.5" r="15.2"/><circle cx="1522.3" cy="1064.4" r="15.2"/><circle cx="1527.1" cy="1065.3" r="15.2"/><circle cx="1531.9" cy="1066.3" r="15.2"/><circle cx="1536.6" cy="1067.2" r="15.2"/><circle cx="1541.4" cy="1068.1" r="15.2"/><circle cx="1546.2" cy="1069.0" r="15.2"/><circle cx="1551.0" cy="1070.0" r="15.2"/><circle cx="1555.8" cy="1070.9" r="15.2"/><circle cx="1560.6" cy="1071.8" r="15.2"/><circle cx="1565.4" cy="1072.7" r="15.2"/><circle cx="1570.2" cy="1073.6" r="15.2"/><circle cx="1575.0" cy="1074.5" r="15.2"/><circle cx="1579.8" cy="1075.4" r="15.2"/><circle cx="1584.6" cy="1076.3" r="15.2"/><circle cx="1589.4" cy="1077.2" r="15.2"/><circle cx="1594.1" cy="1078.1" r="15.2"/><circle cx="1598.9" cy="1079.0" r="15.2"/><circle cx="1603.7" cy="1079.9" r="15.2"/><circle cx="1608.5" cy="1080.7" r="15.2"/><circle cx="1613.3" cy="1081.6" r="15.2"/><circle cx="1618.1" cy="1082.5" r="15.2"/><circle cx="1622.9" cy="1083.4" r="15.2"/><circle cx="1627.7" cy="1084.3" r="15.2"/><circle cx="1632.5" cy="1085.1" r="15.2"/><circle cx="1637.3" cy="1086.0" r="15.2"/><circle cx="1642.1" cy="1086.9" r="15.2"/><circle cx="1646.9" cy="1087.7" r="15.2"/><circle cx="1651.6" cy="1088.6" r="15.2"/><circle cx="1656.4" cy="1089.5" r="15.2"/><circle cx="1661.2" cy="1090.3" r="15.2"/><circle cx="1666.0" cy="1091.2" r="15.2"/><circle cx="1670.8" cy="1092.0" r="15.2"/><circle cx="1675.6" cy="1092.9" r="15.2"/><circle cx="1680.4" cy="1093.7" r="15.2"/><circle cx="1685.2" cy="1094.6" r="15.2"/><circle cx="1690.0" cy="1095.4" r="15.2"/><circle cx="1694.8" cy="1096.3" r="15.2"/><circle cx="1699.6" cy="1097.1" r="15.2"/><circle cx="1704.4" cy="1097.9" r="15.2"/><circle cx="1709.2" cy="1098.8" r="15.2"/><circle cx="1713.9" cy="1099.6" r="15.2"/><circle cx="1718.7" cy="1100.4" r="15.2"/><circle cx="1723.5" cy="1101.3" r="15.2"/><circle cx="1728.3" cy="1102.1" r="15.2"/><circle cx="1733.1" cy="1102.9" r="15.2"/><circle cx="1737.9" cy="1103.7" r="15.2"/><circle cx="1742.7" cy="1104.5" r="15.2"/><circle cx="1747.5" cy="1105.4" r="15.2"/><circle cx="1752.3" cy="1106.2" r="15.2"/><circle cx="1757.1" cy="1107.0" r="15.2"/><circle cx="1761.9" cy="1107.8" r="15.2"/><circle cx="1766.7" cy="1108.6" r="15.2"/><circle cx="1771.4" cy="1109.4" r="15.2"/><circle cx="1776.2" cy="1110.2" r="15.2"/><circle cx="1781.0" cy="1111.0" r="15.2"/><circle cx="1785.8" cy="1111.8" r="15.2"/><circle cx="1790.6" cy="1112.6" r="15.2"/><circle cx="1795.4" cy="1113.4" r="15.2"/><circle cx="1800.2" cy="1114.2" r="15.2"/><circle cx="1805.0" cy="1115.0" r="15.2"/><circle cx="1809.8" cy="1115.8" r="15.2"/><circle cx="1814.6" cy="1116.6" r="15.2"/><circle cx="1819.4" cy="1117.3" r="15.2"/><circle cx="1824.2" cy="1118.1" r="15.2"/><circle cx="1828.9" cy="1118.9" r="15.2"/><circle cx="1833.7" cy="1119.7" r="15.2"/><circle cx="1838.5" cy="1120.5" r="15.2"/><circle cx="1843.3" cy="1121.2" r="15.2"/><circle cx="1848.1" cy="1122.0" r="15.2"/><circle cx="1852.9" cy="1122.8" r="15.2"/><circle cx="1857.7" cy="1123.5" r="15.2"/><circle cx="1862.5" cy="1124.3" r="15.2"/><circle cx="1867.3" cy="1125.1" r="15.2"/><circle cx="1872.1" cy="1125.8" r="15.2"/><circle cx="1876.9" cy="1126.6" r="15.2"/><circle cx="1881.7" cy="1127.4" r="15.2"/><circle cx="1886.5" cy="1128.1" r="15.2"/><circle cx="1891.2" cy="1128.9" r="15.2"/><circle cx="1896.0" cy="1129.6" r="15.2"/><circle cx="1900.8" cy="1130.4" r="15.2"/><circle cx="1905.6" cy="1131.1" r="15.2"/><circle cx="1910.4" cy="1131.9" r="15.2"/><circle cx="1915.2" cy="1132.6" r="15.2"/><circle cx="1920.0" cy="1133.4" r="15.2"/><circle cx="1924.8" cy="1134.1" r="15.2"/><circle cx="1929.6" cy="1134.8" r="15.2"/><circle cx="1934.4" cy="1135.6" r="15.2"/><circle cx="1939.2" cy="1136.3" r="15.2"/><circle cx="1944.0" cy="1137.1" r="15.2"/><circle cx="1948.7" cy="1137.8" r="15.2"/><circle cx="1953.5" cy="1138.5" r="15.2"/><circle cx="1958.3" cy="1139.3" r="15.2"/><circle cx="1963.1" cy="1140.0" r="15.2"/><circle cx="1967.9" cy="1140.7" r="15.2"/><circle cx="1972.7" cy="1141.4" r="15.2"/><circle cx="1977.5" cy="1142.2" r="15.2"/><circle cx="1982.3" cy="1142.9" r="15.2"/><circle cx="1987.1" cy="1143.6" r="15.2"/><circle cx="1991.9" cy="1144.3" r="15.2"/><circle cx="1996.7" cy="1145.0" r="15.2"/><circle cx="2001.5" cy="1145.7" r="15.2"/><circle cx="2006.2" cy="1146.5" r="15.2"/><circle cx="2011.0" cy="1147.2" r="15.2"/><circle cx="2015.8" cy="1147.9" r="15.2"/><circle cx="2020.6" cy="1148.6" r="15.2"/><circle cx="2025.4" cy="1149.3" r="15.2"/><circle cx="2030.2" cy="1150.0" r="15.2"/><circle cx="2035.0" cy="1150.7" r="15.2"/>
</g>
<g fill="url(#rp)">
<circle cx="262.0" cy="458.2" r="15.2"/><circle cx="266.8" cy="463.0" r="15.2"/><circle cx="271.6" cy="467.8" r="15.2"/><circle cx="276.4" cy="472.4" r="15.2"/><circle cx="281.2" cy="477.0" r="15.2"/><circle cx="286.0" cy="481.6" r="15.2"/><circle cx="290.8" cy="486.0" r="15.2"/><circle cx="295.5" cy="490.4" r="15.2"/><circle cx="300.3" cy="494.8" r="15.2"/><circle cx="305.1" cy="499.0" r="15.2"/><circle cx="309.9" cy="503.3" r="15.2"/><circle cx="314.7" cy="507.4" r="15.2"/><circle cx="319.5" cy="511.5" r="15.2"/><circle cx="324.3" cy="515.6" r="15.2"/><circle cx="329.1" cy="519.6" r="15.2"/><circle cx="333.9" cy="523.5" r="15.2"/><circle cx="338.7" cy="527.4" r="15.2"/><circle cx="343.5" cy="531.2" r="15.2"/><circle cx="348.3" cy="535.0" r="15.2"/><circle cx="353.0" cy="538.8" r="15.2"/><circle cx="357.8" cy="542.5" r="15.2"/><circle cx="362.6" cy="546.1" r="15.2"/><circle cx="367.4" cy="549.8" r="15.2"/><circle cx="372.2" cy="553.3" r="15.2"/><circle cx="377.0" cy="556.9" r="15.2"/><circle cx="381.8" cy="560.3" r="15.2"/><circle cx="386.6" cy="563.8" r="15.2"/><circle cx="391.4" cy="567.2" r="15.2"/><circle cx="396.2" cy="570.6" r="15.2"/><circle cx="401.0" cy="573.9" r="15.2"/><circle cx="405.8" cy="577.2" r="15.2"/><circle cx="410.5" cy="580.5" r="15.2"/><circle cx="415.3" cy="583.7" r="15.2"/><circle cx="420.1" cy="586.9" r="15.2"/><circle cx="424.9" cy="590.1" r="15.2"/><circle cx="429.7" cy="593.2" r="15.2"/><circle cx="434.5" cy="596.3" r="15.2"/><circle cx="439.3" cy="599.4" r="15.2"/><circle cx="444.1" cy="602.4" r="15.2"/><circle cx="448.9" cy="605.4" r="15.2"/><circle cx="453.7" cy="608.4" r="15.2"/><circle cx="458.5" cy="611.3" r="15.2"/><circle cx="463.3" cy="614.2" r="15.2"/><circle cx="468.1" cy="617.1" r="15.2"/><circle cx="472.8" cy="620.0" r="15.2"/><circle cx="477.6" cy="622.8" r="15.2"/><circle cx="482.4" cy="625.7" r="15.2"/><circle cx="487.2" cy="628.4" r="15.2"/><circle cx="492.0" cy="631.2" r="15.2"/><circle cx="496.8" cy="633.9" r="15.2"/><circle cx="501.6" cy="636.6" r="15.2"/><circle cx="506.4" cy="639.3" r="15.2"/><circle cx="511.2" cy="642.0" r="15.2"/><circle cx="516.0" cy="644.6" r="15.2"/><circle cx="520.8" cy="647.3" r="15.2"/><circle cx="525.6" cy="649.8" r="15.2"/><circle cx="530.3" cy="652.4" r="15.2"/><circle cx="535.1" cy="655.0" r="15.2"/><circle cx="539.9" cy="657.5" r="15.2"/><circle cx="544.7" cy="660.0" r="15.2"/><circle cx="549.5" cy="662.5" r="15.2"/><circle cx="554.3" cy="665.0" r="15.2"/><circle cx="559.1" cy="667.4" r="15.2"/><circle cx="563.9" cy="669.8" r="15.2"/><circle cx="568.7" cy="672.3" r="15.2"/><circle cx="573.5" cy="674.6" r="15.2"/><circle cx="578.3" cy="677.0" r="15.2"/><circle cx="583.1" cy="679.4" r="15.2"/><circle cx="587.8" cy="681.7" r="15.2"/><circle cx="592.6" cy="684.0" r="15.2"/><circle cx="597.4" cy="686.3" r="15.2"/><circle cx="602.2" cy="688.6" r="15.2"/><circle cx="607.0" cy="690.9" r="15.2"/><circle cx="611.8" cy="693.1" r="15.2"/><circle cx="616.6" cy="695.4" r="15.2"/><circle cx="621.4" cy="697.6" r="15.2"/><circle cx="626.2" cy="699.8" r="15.2"/><circle cx="631.0" cy="702.0" r="15.2"/><circle cx="635.8" cy="704.1" r="15.2"/><circle cx="640.6" cy="706.3" r="15.2"/><circle cx="645.4" cy="708.4" r="15.2"/><circle cx="650.1" cy="710.5" r="15.2"/><circle cx="654.9" cy="712.6" r="15.2"/><circle cx="659.7" cy="714.7" r="15.2"/><circle cx="664.5" cy="716.8" r="15.2"/><circle cx="669.3" cy="718.9" r="15.2"/><circle cx="674.1" cy="720.9" r="15.2"/><circle cx="678.9" cy="723.0" r="15.2"/><circle cx="683.7" cy="725.0" r="15.2"/><circle cx="688.5" cy="727.0" r="15.2"/><circle cx="693.3" cy="729.0" r="15.2"/><circle cx="698.1" cy="731.0" r="15.2"/><circle cx="702.9" cy="733.0" r="15.2"/><circle cx="707.6" cy="734.9" r="15.2"/><circle cx="712.4" cy="736.9" r="15.2"/><circle cx="717.2" cy="738.8" r="15.2"/><circle cx="722.0" cy="740.7" r="15.2"/><circle cx="726.8" cy="742.6" r="15.2"/><circle cx="731.6" cy="744.5" r="15.2"/><circle cx="736.4" cy="746.4" r="15.2"/><circle cx="741.2" cy="748.3" r="15.2"/><circle cx="746.0" cy="750.1" r="15.2"/><circle cx="750.8" cy="752.0" r="15.2"/><circle cx="755.6" cy="753.8" r="15.2"/><circle cx="760.4" cy="755.7" r="15.2"/><circle cx="765.1" cy="757.5" r="15.2"/><circle cx="769.9" cy="759.3" r="15.2"/><circle cx="774.7" cy="761.1" r="15.2"/><circle cx="779.5" cy="762.9" r="15.2"/><circle cx="784.3" cy="764.6" r="15.2"/><circle cx="789.1" cy="766.4" r="15.2"/><circle cx="793.9" cy="768.2" r="15.2"/><circle cx="798.7" cy="769.9" r="15.2"/><circle cx="803.5" cy="771.6" r="15.2"/><circle cx="808.3" cy="773.4" r="15.2"/><circle cx="813.1" cy="775.1" r="15.2"/><circle cx="817.9" cy="776.8" r="15.2"/><circle cx="822.7" cy="778.5" r="15.2"/><circle cx="827.4" cy="780.2" r="15.2"/><circle cx="832.2" cy="781.9" r="15.2"/><circle cx="837.0" cy="783.5" r="15.2"/><circle cx="841.8" cy="785.2" r="15.2"/><circle cx="846.6" cy="786.8" r="15.2"/><circle cx="851.4" cy="788.5" r="15.2"/><circle cx="856.2" cy="790.1" r="15.2"/><circle cx="861.0" cy="791.7" r="15.2"/><circle cx="865.8" cy="793.3" r="15.2"/><circle cx="870.6" cy="794.9" r="15.2"/><circle cx="875.4" cy="796.5" r="15.2"/><circle cx="880.2" cy="798.1" r="15.2"/><circle cx="884.9" cy="799.7" r="15.2"/><circle cx="889.7" cy="801.3" r="15.2"/><circle cx="894.5" cy="802.9" r="15.2"/><circle cx="899.3" cy="804.4" r="15.2"/><circle cx="904.1" cy="806.0" r="15.2"/><circle cx="908.9" cy="807.5" r="15.2"/><circle cx="913.7" cy="809.0" r="15.2"/><circle cx="918.5" cy="810.6" r="15.2"/><circle cx="923.3" cy="812.1" r="15.2"/><circle cx="928.1" cy="813.6" r="15.2"/><circle cx="932.9" cy="815.1" r="15.2"/><circle cx="937.7" cy="816.6" r="15.2"/><circle cx="942.4" cy="818.1" r="15.2"/><circle cx="947.2" cy="819.6" r="15.2"/><circle cx="952.0" cy="821.0" r="15.2"/><circle cx="956.8" cy="822.5" r="15.2"/><circle cx="961.6" cy="824.0" r="15.2"/><circle cx="966.4" cy="825.4" r="15.2"/><circle cx="971.2" cy="826.9" r="15.2"/><circle cx="976.0" cy="828.3" r="15.2"/><circle cx="980.8" cy="829.7" r="15.2"/><circle cx="985.6" cy="831.2" r="15.2"/><circle cx="990.4" cy="832.6" r="15.2"/><circle cx="995.2" cy="834.0" r="15.2"/><circle cx="1000.0" cy="835.4" r="15.2"/><circle cx="1004.7" cy="836.8" r="15.2"/><circle cx="1009.5" cy="838.2" r="15.2"/><circle cx="1014.3" cy="839.6" r="15.2"/><circle cx="1019.1" cy="840.9" r="15.2"/><circle cx="1023.9" cy="842.3" r="15.2"/><circle cx="1028.7" cy="843.7" r="15.2"/><circle cx="1033.5" cy="845.0" r="15.2"/><circle cx="1038.3" cy="846.4" r="15.2"/><circle cx="1043.1" cy="847.8" r="15.2"/><circle cx="1047.9" cy="849.1" r="15.2"/><circle cx="1052.7" cy="850.4" r="15.2"/><circle cx="1057.5" cy="851.8" r="15.2"/><circle cx="1062.2" cy="853.1" r="15.2"/><circle cx="1067.0" cy="854.4" r="15.2"/><circle cx="1071.8" cy="855.7" r="15.2"/><circle cx="1076.6" cy="857.0" r="15.2"/><circle cx="1081.4" cy="858.3" r="15.2"/><circle cx="1086.2" cy="859.6" r="15.2"/><circle cx="1091.0" cy="860.9" r="15.2"/><circle cx="1095.8" cy="862.2" r="15.2"/><circle cx="1100.6" cy="863.5" r="15.2"/><circle cx="1105.4" cy="864.8" r="15.2"/><circle cx="1110.2" cy="866.0" r="15.2"/><circle cx="1115.0" cy="867.3" r="15.2"/><circle cx="1119.7" cy="868.6" r="15.2"/><circle cx="1124.5" cy="869.8" r="15.2"/><circle cx="1129.3" cy="871.1" r="15.2"/><circle cx="1134.1" cy="872.3" r="15.2"/><circle cx="1138.9" cy="873.6" r="15.2"/><circle cx="1143.7" cy="874.8" r="15.2"/><circle cx="1148.5" cy="876.0" r="15.2"/><circle cx="1153.3" cy="877.2" r="15.2"/><circle cx="1158.1" cy="878.5" r="15.2"/><circle cx="1162.9" cy="879.7" r="15.2"/><circle cx="1167.7" cy="880.9" r="15.2"/><circle cx="1172.5" cy="882.1" r="15.2"/><circle cx="1177.3" cy="883.3" r="15.2"/><circle cx="1182.0" cy="884.5" r="15.2"/><circle cx="1186.8" cy="885.7" r="15.2"/><circle cx="1191.6" cy="886.9" r="15.2"/><circle cx="1196.4" cy="888.0" r="15.2"/><circle cx="1201.2" cy="889.2" r="15.2"/><circle cx="1206.0" cy="890.4" r="15.2"/><circle cx="1210.8" cy="891.6" r="15.2"/><circle cx="1215.6" cy="892.7" r="15.2"/><circle cx="1220.4" cy="893.9" r="15.2"/><circle cx="1225.2" cy="895.0" r="15.2"/><circle cx="1230.0" cy="896.2" r="15.2"/><circle cx="1234.8" cy="897.3" r="15.2"/><circle cx="1239.5" cy="898.5" r="15.2"/><circle cx="1244.3" cy="899.6" r="15.2"/><circle cx="1249.1" cy="900.7" r="15.2"/><circle cx="1253.9" cy="901.9" r="15.2"/><circle cx="1258.7" cy="903.0" r="15.2"/><circle cx="1263.5" cy="904.1" r="15.2"/><circle cx="1268.3" cy="905.2" r="15.2"/><circle cx="1273.1" cy="906.3" r="15.2"/><circle cx="1277.9" cy="907.5" r="15.2"/><circle cx="1282.7" cy="908.6" r="15.2"/><circle cx="1287.5" cy="909.7" r="15.2"/><circle cx="1292.3" cy="910.8" r="15.2"/><circle cx="1297.0" cy="911.8" r="15.2"/><circle cx="1301.8" cy="912.9" r="15.2"/><circle cx="1306.6" cy="914.0" r="15.2"/><circle cx="1311.4" cy="915.1" r="15.2"/><circle cx="1316.2" cy="916.2" r="15.2"/><circle cx="1321.0" cy="917.2" r="15.2"/><circle cx="1325.8" cy="918.3" r="15.2"/><circle cx="1330.6" cy="919.4" r="15.2"/><circle cx="1335.4" cy="920.4" r="15.2"/><circle cx="1340.2" cy="921.5" r="15.2"/><circle cx="1345.0" cy="922.6" r="15.2"/><circle cx="1349.8" cy="923.6" r="15.2"/><circle cx="1354.6" cy="924.7" r="15.2"/><circle cx="1359.3" cy="925.7" r="15.2"/><circle cx="1364.1" cy="926.7" r="15.2"/><circle cx="1368.9" cy="927.8" r="15.2"/><circle cx="1373.7" cy="928.8" r="15.2"/><circle cx="1378.5" cy="929.8" r="15.2"/><circle cx="1383.3" cy="930.9" r="15.2"/><circle cx="1388.1" cy="931.9" r="15.2"/><circle cx="1392.9" cy="932.9" r="15.2"/><circle cx="1397.7" cy="933.9" r="15.2"/><circle cx="1402.5" cy="934.9" r="15.2"/><circle cx="1407.3" cy="935.9" r="15.2"/><circle cx="1412.1" cy="936.9" r="15.2"/><circle cx="1416.8" cy="937.9" r="15.2"/><circle cx="1421.6" cy="938.9" r="15.2"/><circle cx="1426.4" cy="939.9" r="15.2"/><circle cx="1431.2" cy="940.9" r="15.2"/><circle cx="1436.0" cy="941.9" r="15.2"/><circle cx="1440.8" cy="942.9" r="15.2"/><circle cx="1445.6" cy="943.9" r="15.2"/><circle cx="1450.4" cy="944.9" r="15.2"/><circle cx="1455.2" cy="945.8" r="15.2"/><circle cx="1460.0" cy="946.8" r="15.2"/><circle cx="1464.8" cy="947.8" r="15.2"/><circle cx="1469.6" cy="948.8" r="15.2"/><circle cx="1474.3" cy="949.7" r="15.2"/><circle cx="1479.1" cy="950.7" r="15.2"/><circle cx="1483.9" cy="951.6" r="15.2"/><circle cx="1488.7" cy="952.6" r="15.2"/><circle cx="1493.5" cy="953.5" r="15.2"/><circle cx="1498.3" cy="954.5" r="15.2"/><circle cx="1503.1" cy="955.4" r="15.2"/><circle cx="1507.9" cy="956.4" r="15.2"/><circle cx="1512.7" cy="957.3" r="15.2"/><circle cx="1517.5" cy="958.3" r="15.2"/><circle cx="1522.3" cy="959.2" r="15.2"/><circle cx="1527.1" cy="960.1" r="15.2"/><circle cx="1531.9" cy="961.0" r="15.2"/><circle cx="1536.6" cy="962.0" r="15.2"/><circle cx="1541.4" cy="962.9" r="15.2"/><circle cx="1546.2" cy="963.8" r="15.2"/><circle cx="1551.0" cy="964.7" r="15.2"/><circle cx="1555.8" cy="965.6" r="15.2"/><circle cx="1560.6" cy="966.6" r="15.2"/><circle cx="1565.4" cy="967.5" r="15.2"/><circle cx="1570.2" cy="968.4" r="15.2"/><circle cx="1575.0" cy="969.3" r="15.2"/><circle cx="1579.8" cy="970.2" r="15.2"/><circle cx="1584.6" cy="971.1" r="15.2"/><circle cx="1589.4" cy="972.0" r="15.2"/><circle cx="1594.1" cy="972.9" r="15.2"/><circle cx="1598.9" cy="973.8" r="15.2"/><circle cx="1603.7" cy="974.6" r="15.2"/><circle cx="1608.5" cy="975.5" r="15.2"/><circle cx="1613.3" cy="976.4" r="15.2"/><circle cx="1618.1" cy="977.3" r="15.2"/><circle cx="1622.9" cy="978.2" r="15.2"/><circle cx="1627.7" cy="979.0" r="15.2"/><circle cx="1632.5" cy="979.9" r="15.2"/><circle cx="1637.3" cy="980.8" r="15.2"/><circle cx="1642.1" cy="981.7" r="15.2"/><circle cx="1646.9" cy="982.5" r="15.2"/><circle cx="1651.6" cy="983.4" r="15.2"/><circle cx="1656.4" cy="984.2" r="15.2"/><circle cx="1661.2" cy="985.1" r="15.2"/><circle cx="1666.0" cy="986.0" r="15.2"/><circle cx="1670.8" cy="986.8" r="15.2"/><circle cx="1675.6" cy="987.7" r="15.2"/><circle cx="1680.4" cy="988.5" r="15.2"/><circle cx="1685.2" cy="989.4" r="15.2"/><circle cx="1690.0" cy="990.2" r="15.2"/><circle cx="1694.8" cy="991.0" r="15.2"/><circle cx="1699.6" cy="991.9" r="15.2"/><circle cx="1704.4" cy="992.7" r="15.2"/><circle cx="1709.2" cy="993.5" r="15.2"/><circle cx="1713.9" cy="994.4" r="15.2"/><circle cx="1718.7" cy="995.2" r="15.2"/><circle cx="1723.5" cy="996.0" r="15.2"/><circle cx="1728.3" cy="996.9" r="15.2"/><circle cx="1733.1" cy="997.7" r="15.2"/><circle cx="1737.9" cy="998.5" r="15.2"/><circle cx="1742.7" cy="999.3" r="15.2"/><circle cx="1747.5" cy="1000.1" r="15.2"/><circle cx="1752.3" cy="1000.9" r="15.2"/><circle cx="1757.1" cy="1001.8" r="15.2"/><circle cx="1761.9" cy="1002.6" r="15.2"/><circle cx="1766.7" cy="1003.4" r="15.2"/><circle cx="1771.4" cy="1004.2" r="15.2"/><circle cx="1776.2" cy="1005.0" r="15.2"/><circle cx="1781.0" cy="1005.8" r="15.2"/><circle cx="1785.8" cy="1006.6" r="15.2"/><circle cx="1790.6" cy="1007.4" r="15.2"/><circle cx="1795.4" cy="1008.2" r="15.2"/><circle cx="1800.2" cy="1009.0" r="15.2"/><circle cx="1805.0" cy="1009.8" r="15.2"/><circle cx="1809.8" cy="1010.5" r="15.2"/><circle cx="1814.6" cy="1011.3" r="15.2"/><circle cx="1819.4" cy="1012.1" r="15.2"/><circle cx="1824.2" cy="1012.9" r="15.2"/><circle cx="1828.9" cy="1013.7" r="15.2"/><circle cx="1833.7" cy="1014.5" r="15.2"/><circle cx="1838.5" cy="1015.2" r="15.2"/><circle cx="1843.3" cy="1016.0" r="15.2"/><circle cx="1848.1" cy="1016.8" r="15.2"/><circle cx="1852.9" cy="1017.6" r="15.2"/><circle cx="1857.7" cy="1018.3" r="15.2"/><circle cx="1862.5" cy="1019.1" r="15.2"/><circle cx="1867.3" cy="1019.9" r="15.2"/><circle cx="1872.1" cy="1020.6" r="15.2"/><circle cx="1876.9" cy="1021.4" r="15.2"/><circle cx="1881.7" cy="1022.1" r="15.2"/><circle cx="1886.5" cy="1022.9" r="15.2"/><circle cx="1891.2" cy="1023.7" r="15.2"/><circle cx="1896.0" cy="1024.4" r="15.2"/><circle cx="1900.8" cy="1025.2" r="15.2"/><circle cx="1905.6" cy="1025.9" r="15.2"/><circle cx="1910.4" cy="1026.7" r="15.2"/><circle cx="1915.2" cy="1027.4" r="15.2"/><circle cx="1920.0" cy="1028.1" r="15.2"/><circle cx="1924.8" cy="1028.9" r="15.2"/><circle cx="1929.6" cy="1029.6" r="15.2"/><circle cx="1934.4" cy="1030.4" r="15.2"/><circle cx="1939.2" cy="1031.1" r="15.2"/><circle cx="1944.0" cy="1031.8" r="15.2"/><circle cx="1948.7" cy="1032.6" r="15.2"/><circle cx="1953.5" cy="1033.3" r="15.2"/><circle cx="1958.3" cy="1034.0" r="15.2"/><circle cx="1963.1" cy="1034.8" r="15.2"/><circle cx="1967.9" cy="1035.5" r="15.2"/><circle cx="1972.7" cy="1036.2" r="15.2"/><circle cx="1977.5" cy="1036.9" r="15.2"/><circle cx="1982.3" cy="1037.7" r="15.2"/><circle cx="1987.1" cy="1038.4" r="15.2"/><circle cx="1991.9" cy="1039.1" r="15.2"/><circle cx="1996.7" cy="1039.8" r="15.2"/><circle cx="2001.5" cy="1040.5" r="15.2"/><circle cx="2006.2" cy="1041.2" r="15.2"/><circle cx="2011.0" cy="1041.9" r="15.2"/><circle cx="2015.8" cy="1042.7" r="15.2"/><circle cx="2020.6" cy="1043.4" r="15.2"/><circle cx="2025.4" cy="1044.1" r="15.2"/><circle cx="2030.2" cy="1044.8" r="15.2"/><circle cx="2035.0" cy="1045.5" r="15.2"/>
</g>
<g fill="url(#ry)">
<circle cx="262.0" cy="292.4" r="15.2"/><circle cx="266.8" cy="297.2" r="15.2"/><circle cx="271.6" cy="302.0" r="15.2"/><circle cx="276.4" cy="306.7" r="15.2"/><circle cx="281.2" cy="311.3" r="15.2"/><circle cx="286.0" cy="315.8" r="15.2"/><circle cx="290.8" cy="320.3" r="15.2"/><circle cx="295.5" cy="324.7" r="15.2"/><circle cx="300.3" cy="329.0" r="15.2"/><circle cx="305.1" cy="333.3" r="15.2"/><circle cx="309.9" cy="337.5" r="15.2"/><circle cx="314.7" cy="341.6" r="15.2"/><circle cx="319.5" cy="345.7" r="15.2"/><circle cx="324.3" cy="349.8" r="15.2"/><circle cx="329.1" cy="353.8" r="15.2"/><circle cx="333.9" cy="357.7" r="15.2"/><circle cx="338.7" cy="361.6" r="15.2"/><circle cx="343.5" cy="365.5" r="15.2"/><circle cx="348.3" cy="369.3" r="15.2"/><circle cx="353.0" cy="373.0" r="15.2"/><circle cx="357.8" cy="376.7" r="15.2"/><circle cx="362.6" cy="380.4" r="15.2"/><circle cx="367.4" cy="384.0" r="15.2"/><circle cx="372.2" cy="387.6" r="15.2"/><circle cx="377.0" cy="391.1" r="15.2"/><circle cx="381.8" cy="394.6" r="15.2"/><circle cx="386.6" cy="398.0" r="15.2"/><circle cx="391.4" cy="401.4" r="15.2"/><circle cx="396.2" cy="404.8" r="15.2"/><circle cx="401.0" cy="408.1" r="15.2"/><circle cx="405.8" cy="411.4" r="15.2"/><circle cx="410.5" cy="414.7" r="15.2"/><circle cx="415.3" cy="417.9" r="15.2"/><circle cx="420.1" cy="421.1" r="15.2"/><circle cx="424.9" cy="424.3" r="15.2"/><circle cx="429.7" cy="427.4" r="15.2"/><circle cx="434.5" cy="430.5" r="15.2"/><circle cx="439.3" cy="433.6" r="15.2"/><circle cx="444.1" cy="436.6" r="15.2"/><circle cx="448.9" cy="439.6" r="15.2"/><circle cx="453.7" cy="442.6" r="15.2"/><circle cx="458.5" cy="445.6" r="15.2"/><circle cx="463.3" cy="448.5" r="15.2"/><circle cx="468.1" cy="451.4" r="15.2"/><circle cx="472.8" cy="454.2" r="15.2"/><circle cx="477.6" cy="457.1" r="15.2"/><circle cx="482.4" cy="459.9" r="15.2"/><circle cx="487.2" cy="462.7" r="15.2"/><circle cx="492.0" cy="465.4" r="15.2"/><circle cx="496.8" cy="468.2" r="15.2"/><circle cx="501.6" cy="470.9" r="15.2"/><circle cx="506.4" cy="473.6" r="15.2"/><circle cx="511.2" cy="476.2" r="15.2"/><circle cx="516.0" cy="478.9" r="15.2"/><circle cx="520.8" cy="481.5" r="15.2"/><circle cx="525.6" cy="484.1" r="15.2"/><circle cx="530.3" cy="486.6" r="15.2"/><circle cx="535.1" cy="489.2" r="15.2"/><circle cx="539.9" cy="491.7" r="15.2"/><circle cx="544.7" cy="494.2" r="15.2"/><circle cx="549.5" cy="496.7" r="15.2"/><circle cx="554.3" cy="499.2" r="15.2"/><circle cx="559.1" cy="501.6" r="15.2"/><circle cx="563.9" cy="504.1" r="15.2"/><circle cx="568.7" cy="506.5" r="15.2"/><circle cx="573.5" cy="508.9" r="15.2"/><circle cx="578.3" cy="511.2" r="15.2"/><circle cx="583.1" cy="513.6" r="15.2"/><circle cx="587.8" cy="515.9" r="15.2"/><circle cx="592.6" cy="518.3" r="15.2"/><circle cx="597.4" cy="520.6" r="15.2"/><circle cx="602.2" cy="522.8" r="15.2"/><circle cx="607.0" cy="525.1" r="15.2"/><circle cx="611.8" cy="527.3" r="15.2"/><circle cx="616.6" cy="529.6" r="15.2"/><circle cx="621.4" cy="531.8" r="15.2"/><circle cx="626.2" cy="534.0" r="15.2"/><circle cx="631.0" cy="536.2" r="15.2"/><circle cx="635.8" cy="538.4" r="15.2"/><circle cx="640.6" cy="540.5" r="15.2"/><circle cx="645.4" cy="542.6" r="15.2"/><circle cx="650.1" cy="544.8" r="15.2"/><circle cx="654.9" cy="546.9" r="15.2"/><circle cx="659.7" cy="549.0" r="15.2"/><circle cx="664.5" cy="551.0" r="15.2"/><circle cx="669.3" cy="553.1" r="15.2"/><circle cx="674.1" cy="555.2" r="15.2"/><circle cx="678.9" cy="557.2" r="15.2"/><circle cx="683.7" cy="559.2" r="15.2"/><circle cx="688.5" cy="561.2" r="15.2"/><circle cx="693.3" cy="563.2" r="15.2"/><circle cx="698.1" cy="565.2" r="15.2"/><circle cx="702.9" cy="567.2" r="15.2"/><circle cx="707.6" cy="569.1" r="15.2"/><circle cx="712.4" cy="571.1" r="15.2"/><circle cx="717.2" cy="573.0" r="15.2"/><circle cx="722.0" cy="574.9" r="15.2"/><circle cx="726.8" cy="576.9" r="15.2"/><circle cx="731.6" cy="578.8" r="15.2"/><circle cx="736.4" cy="580.6" r="15.2"/><circle cx="741.2" cy="582.5" r="15.2"/><circle cx="746.0" cy="584.4" r="15.2"/><circle cx="750.8" cy="586.2" r="15.2"/><circle cx="755.6" cy="588.1" r="15.2"/><circle cx="760.4" cy="589.9" r="15.2"/><circle cx="765.1" cy="591.7" r="15.2"/><circle cx="769.9" cy="593.5" r="15.2"/><circle cx="774.7" cy="595.3" r="15.2"/><circle cx="779.5" cy="597.1" r="15.2"/><circle cx="784.3" cy="598.9" r="15.2"/><circle cx="789.1" cy="600.6" r="15.2"/><circle cx="793.9" cy="602.4" r="15.2"/><circle cx="798.7" cy="604.1" r="15.2"/><circle cx="803.5" cy="605.9" r="15.2"/><circle cx="808.3" cy="607.6" r="15.2"/><circle cx="813.1" cy="609.3" r="15.2"/><circle cx="817.9" cy="611.0" r="15.2"/><circle cx="822.7" cy="612.7" r="15.2"/><circle cx="827.4" cy="614.4" r="15.2"/><circle cx="832.2" cy="616.1" r="15.2"/><circle cx="837.0" cy="617.8" r="15.2"/><circle cx="841.8" cy="619.4" r="15.2"/><circle cx="846.6" cy="621.1" r="15.2"/><circle cx="851.4" cy="622.7" r="15.2"/><circle cx="856.2" cy="624.3" r="15.2"/><circle cx="861.0" cy="626.0" r="15.2"/><circle cx="865.8" cy="627.6" r="15.2"/><circle cx="870.6" cy="629.2" r="15.2"/><circle cx="875.4" cy="630.8" r="15.2"/><circle cx="880.2" cy="632.4" r="15.2"/><circle cx="884.9" cy="634.0" r="15.2"/><circle cx="889.7" cy="635.5" r="15.2"/><circle cx="894.5" cy="637.1" r="15.2"/><circle cx="899.3" cy="638.6" r="15.2"/><circle cx="904.1" cy="640.2" r="15.2"/><circle cx="908.9" cy="641.7" r="15.2"/><circle cx="913.7" cy="643.3" r="15.2"/><circle cx="918.5" cy="644.8" r="15.2"/><circle cx="923.3" cy="646.3" r="15.2"/><circle cx="928.1" cy="647.8" r="15.2"/><circle cx="932.9" cy="649.3" r="15.2"/><circle cx="937.7" cy="650.8" r="15.2"/><circle cx="942.4" cy="652.3" r="15.2"/><circle cx="947.2" cy="653.8" r="15.2"/><circle cx="952.0" cy="655.3" r="15.2"/><circle cx="956.8" cy="656.7" r="15.2"/><circle cx="961.6" cy="658.2" r="15.2"/><circle cx="966.4" cy="659.6" r="15.2"/><circle cx="971.2" cy="661.1" r="15.2"/><circle cx="976.0" cy="662.5" r="15.2"/><circle cx="980.8" cy="664.0" r="15.2"/><circle cx="985.6" cy="665.4" r="15.2"/><circle cx="990.4" cy="666.8" r="15.2"/><circle cx="995.2" cy="668.2" r="15.2"/><circle cx="1000.0" cy="669.6" r="15.2"/><circle cx="1004.7" cy="671.0" r="15.2"/><circle cx="1009.5" cy="672.4" r="15.2"/><circle cx="1014.3" cy="673.8" r="15.2"/><circle cx="1019.1" cy="675.2" r="15.2"/><circle cx="1023.9" cy="676.6" r="15.2"/><circle cx="1028.7" cy="677.9" r="15.2"/><circle cx="1033.5" cy="679.3" r="15.2"/><circle cx="1038.3" cy="680.6" r="15.2"/><circle cx="1043.1" cy="682.0" r="15.2"/><circle cx="1047.9" cy="683.3" r="15.2"/><circle cx="1052.7" cy="684.7" r="15.2"/><circle cx="1057.5" cy="686.0" r="15.2"/><circle cx="1062.2" cy="687.3" r="15.2"/><circle cx="1067.0" cy="688.6" r="15.2"/><circle cx="1071.8" cy="690.0" r="15.2"/><circle cx="1076.6" cy="691.3" r="15.2"/><circle cx="1081.4" cy="692.6" r="15.2"/><circle cx="1086.2" cy="693.9" r="15.2"/><circle cx="1091.0" cy="695.2" r="15.2"/><circle cx="1095.8" cy="696.4" r="15.2"/><circle cx="1100.6" cy="697.7" r="15.2"/><circle cx="1105.4" cy="699.0" r="15.2"/><circle cx="1110.2" cy="700.3" r="15.2"/><circle cx="1115.0" cy="701.5" r="15.2"/><circle cx="1119.7" cy="702.8" r="15.2"/><circle cx="1124.5" cy="704.1" r="15.2"/><circle cx="1129.3" cy="705.3" r="15.2"/><circle cx="1134.1" cy="706.5" r="15.2"/><circle cx="1138.9" cy="707.8" r="15.2"/><circle cx="1143.7" cy="709.0" r="15.2"/><circle cx="1148.5" cy="710.2" r="15.2"/><circle cx="1153.3" cy="711.5" r="15.2"/><circle cx="1158.1" cy="712.7" r="15.2"/><circle cx="1162.9" cy="713.9" r="15.2"/><circle cx="1167.7" cy="715.1" r="15.2"/><circle cx="1172.5" cy="716.3" r="15.2"/><circle cx="1177.3" cy="717.5" r="15.2"/><circle cx="1182.0" cy="718.7" r="15.2"/><circle cx="1186.8" cy="719.9" r="15.2"/><circle cx="1191.6" cy="721.1" r="15.2"/><circle cx="1196.4" cy="722.3" r="15.2"/><circle cx="1201.2" cy="723.5" r="15.2"/><circle cx="1206.0" cy="724.6" r="15.2"/><circle cx="1210.8" cy="725.8" r="15.2"/><circle cx="1215.6" cy="727.0" r="15.2"/><circle cx="1220.4" cy="728.1" r="15.2"/><circle cx="1225.2" cy="729.3" r="15.2"/><circle cx="1230.0" cy="730.4" r="15.2"/><circle cx="1234.8" cy="731.6" r="15.2"/><circle cx="1239.5" cy="732.7" r="15.2"/><circle cx="1244.3" cy="733.8" r="15.2"/><circle cx="1249.1" cy="735.0" r="15.2"/><circle cx="1253.9" cy="736.1" r="15.2"/><circle cx="1258.7" cy="737.2" r="15.2"/><circle cx="1263.5" cy="738.3" r="15.2"/><circle cx="1268.3" cy="739.5" r="15.2"/><circle cx="1273.1" cy="740.6" r="15.2"/><circle cx="1277.9" cy="741.7" r="15.2"/><circle cx="1282.7" cy="742.8" r="15.2"/><circle cx="1287.5" cy="743.9" r="15.2"/><circle cx="1292.3" cy="745.0" r="15.2"/><circle cx="1297.0" cy="746.1" r="15.2"/><circle cx="1301.8" cy="747.2" r="15.2"/><circle cx="1306.6" cy="748.2" r="15.2"/><circle cx="1311.4" cy="749.3" r="15.2"/><circle cx="1316.2" cy="750.4" r="15.2"/><circle cx="1321.0" cy="751.5" r="15.2"/><circle cx="1325.8" cy="752.5" r="15.2"/><circle cx="1330.6" cy="753.6" r="15.2"/><circle cx="1335.4" cy="754.7" r="15.2"/><circle cx="1340.2" cy="755.7" r="15.2"/><circle cx="1345.0" cy="756.8" r="15.2"/><circle cx="1349.8" cy="757.8" r="15.2"/><circle cx="1354.6" cy="758.9" r="15.2"/><circle cx="1359.3" cy="759.9" r="15.2"/><circle cx="1364.1" cy="761.0" r="15.2"/><circle cx="1368.9" cy="762.0" r="15.2"/><circle cx="1373.7" cy="763.0" r="15.2"/><circle cx="1378.5" cy="764.1" r="15.2"/><circle cx="1383.3" cy="765.1" r="15.2"/><circle cx="1388.1" cy="766.1" r="15.2"/><circle cx="1392.9" cy="767.1" r="15.2"/><circle cx="1397.7" cy="768.1" r="15.2"/><circle cx="1402.5" cy="769.2" r="15.2"/><circle cx="1407.3" cy="770.2" r="15.2"/><circle cx="1412.1" cy="771.2" r="15.2"/><circle cx="1416.8" cy="772.2" r="15.2"/><circle cx="1421.6" cy="773.2" r="15.2"/><circle cx="1426.4" cy="774.2" r="15.2"/><circle cx="1431.2" cy="775.2" r="15.2"/><circle cx="1436.0" cy="776.1" r="15.2"/><circle cx="1440.8" cy="777.1" r="15.2"/><circle cx="1445.6" cy="778.1" r="15.2"/><circle cx="1450.4" cy="779.1" r="15.2"/><circle cx="1455.2" cy="780.1" r="15.2"/><circle cx="1460.0" cy="781.0" r="15.2"/><circle cx="1464.8" cy="782.0" r="15.2"/><circle cx="1469.6" cy="783.0" r="15.2"/><circle cx="1474.3" cy="783.9" r="15.2"/><circle cx="1479.1" cy="784.9" r="15.2"/><circle cx="1483.9" cy="785.9" r="15.2"/><circle cx="1488.7" cy="786.8" r="15.2"/><circle cx="1493.5" cy="787.8" r="15.2"/><circle cx="1498.3" cy="788.7" r="15.2"/><circle cx="1503.1" cy="789.7" r="15.2"/><circle cx="1507.9" cy="790.6" r="15.2"/><circle cx="1512.7" cy="791.5" r="15.2"/><circle cx="1517.5" cy="792.5" r="15.2"/><circle cx="1522.3" cy="793.4" r="15.2"/><circle cx="1527.1" cy="794.4" r="15.2"/><circle cx="1531.9" cy="795.3" r="15.2"/><circle cx="1536.6" cy="796.2" r="15.2"/><circle cx="1541.4" cy="797.1" r="15.2"/><circle cx="1546.2" cy="798.0" r="15.2"/><circle cx="1551.0" cy="799.0" r="15.2"/><circle cx="1555.8" cy="799.9" r="15.2"/><circle cx="1560.6" cy="800.8" r="15.2"/><circle cx="1565.4" cy="801.7" r="15.2"/><circle cx="1570.2" cy="802.6" r="15.2"/><circle cx="1575.0" cy="803.5" r="15.2"/><circle cx="1579.8" cy="804.4" r="15.2"/><circle cx="1584.6" cy="805.3" r="15.2"/><circle cx="1589.4" cy="806.2" r="15.2"/><circle cx="1594.1" cy="807.1" r="15.2"/><circle cx="1598.9" cy="808.0" r="15.2"/><circle cx="1603.7" cy="808.9" r="15.2"/><circle cx="1608.5" cy="809.8" r="15.2"/><circle cx="1613.3" cy="810.6" r="15.2"/><circle cx="1618.1" cy="811.5" r="15.2"/><circle cx="1622.9" cy="812.4" r="15.2"/><circle cx="1627.7" cy="813.3" r="15.2"/><circle cx="1632.5" cy="814.1" r="15.2"/><circle cx="1637.3" cy="815.0" r="15.2"/><circle cx="1642.1" cy="815.9" r="15.2"/><circle cx="1646.9" cy="816.8" r="15.2"/><circle cx="1651.6" cy="817.6" r="15.2"/><circle cx="1656.4" cy="818.5" r="15.2"/><circle cx="1661.2" cy="819.3" r="15.2"/><circle cx="1666.0" cy="820.2" r="15.2"/><circle cx="1670.8" cy="821.0" r="15.2"/><circle cx="1675.6" cy="821.9" r="15.2"/><circle cx="1680.4" cy="822.7" r="15.2"/><circle cx="1685.2" cy="823.6" r="15.2"/><circle cx="1690.0" cy="824.4" r="15.2"/><circle cx="1694.8" cy="825.3" r="15.2"/><circle cx="1699.6" cy="826.1" r="15.2"/><circle cx="1704.4" cy="826.9" r="15.2"/><circle cx="1709.2" cy="827.8" r="15.2"/><circle cx="1713.9" cy="828.6" r="15.2"/><circle cx="1718.7" cy="829.4" r="15.2"/><circle cx="1723.5" cy="830.3" r="15.2"/><circle cx="1728.3" cy="831.1" r="15.2"/><circle cx="1733.1" cy="831.9" r="15.2"/><circle cx="1737.9" cy="832.7" r="15.2"/><circle cx="1742.7" cy="833.6" r="15.2"/><circle cx="1747.5" cy="834.4" r="15.2"/><circle cx="1752.3" cy="835.2" r="15.2"/><circle cx="1757.1" cy="836.0" r="15.2"/><circle cx="1761.9" cy="836.8" r="15.2"/><circle cx="1766.7" cy="837.6" r="15.2"/><circle cx="1771.4" cy="838.4" r="15.2"/><circle cx="1776.2" cy="839.2" r="15.2"/><circle cx="1781.0" cy="840.0" r="15.2"/><circle cx="1785.8" cy="840.8" r="15.2"/><circle cx="1790.6" cy="841.6" r="15.2"/><circle cx="1795.4" cy="842.4" r="15.2"/><circle cx="1800.2" cy="843.2" r="15.2"/><circle cx="1805.0" cy="844.0" r="15.2"/><circle cx="1809.8" cy="844.8" r="15.2"/><circle cx="1814.6" cy="845.6" r="15.2"/><circle cx="1819.4" cy="846.4" r="15.2"/><circle cx="1824.2" cy="847.1" r="15.2"/><circle cx="1828.9" cy="847.9" r="15.2"/><circle cx="1833.7" cy="848.7" r="15.2"/><circle cx="1838.5" cy="849.5" r="15.2"/><circle cx="1843.3" cy="850.2" r="15.2"/><circle cx="1848.1" cy="851.0" r="15.2"/><circle cx="1852.9" cy="851.8" r="15.2"/><circle cx="1857.7" cy="852.6" r="15.2"/><circle cx="1862.5" cy="853.3" r="15.2"/><circle cx="1867.3" cy="854.1" r="15.2"/><circle cx="1872.1" cy="854.9" r="15.2"/><circle cx="1876.9" cy="855.6" r="15.2"/><circle cx="1881.7" cy="856.4" r="15.2"/><circle cx="1886.5" cy="857.1" r="15.2"/><circle cx="1891.2" cy="857.9" r="15.2"/><circle cx="1896.0" cy="858.6" r="15.2"/><circle cx="1900.8" cy="859.4" r="15.2"/><circle cx="1905.6" cy="860.1" r="15.2"/><circle cx="1910.4" cy="860.9" r="15.2"/><circle cx="1915.2" cy="861.6" r="15.2"/><circle cx="1920.0" cy="862.4" r="15.2"/><circle cx="1924.8" cy="863.1" r="15.2"/><circle cx="1929.6" cy="863.9" r="15.2"/><circle cx="1934.4" cy="864.6" r="15.2"/><circle cx="1939.2" cy="865.3" r="15.2"/><circle cx="1944.0" cy="866.1" r="15.2"/><circle cx="1948.7" cy="866.8" r="15.2"/><circle cx="1953.5" cy="867.5" r="15.2"/><circle cx="1958.3" cy="868.3" r="15.2"/><circle cx="1963.1" cy="869.0" r="15.2"/><circle cx="1967.9" cy="869.7" r="15.2"/><circle cx="1972.7" cy="870.4" r="15.2"/><circle cx="1977.5" cy="871.2" r="15.2"/><circle cx="1982.3" cy="871.9" r="15.2"/><circle cx="1987.1" cy="872.6" r="15.2"/><circle cx="1991.9" cy="873.3" r="15.2"/><circle cx="1996.7" cy="874.0" r="15.2"/><circle cx="2001.5" cy="874.8" r="15.2"/><circle cx="2006.2" cy="875.5" r="15.2"/><circle cx="2011.0" cy="876.2" r="15.2"/><circle cx="2015.8" cy="876.9" r="15.2"/><circle cx="2020.6" cy="877.6" r="15.2"/><circle cx="2025.4" cy="878.3" r="15.2"/><circle cx="2030.2" cy="879.0" r="15.2"/><circle cx="2035.0" cy="879.7" r="15.2"/>
</g>
<g fill="url(#ro)">
<circle cx="262.0" cy="214.9" r="15.2"/><circle cx="266.8" cy="219.7" r="15.2"/><circle cx="271.6" cy="224.4" r="15.2"/><circle cx="276.4" cy="229.1" r="15.2"/><circle cx="281.2" cy="233.7" r="15.2"/><circle cx="286.0" cy="238.2" r="15.2"/><circle cx="290.8" cy="242.7" r="15.2"/><circle cx="295.5" cy="247.1" r="15.2"/><circle cx="300.3" cy="251.4" r="15.2"/><circle cx="305.1" cy="255.7" r="15.2"/><circle cx="309.9" cy="259.9" r="15.2"/><circle cx="314.7" cy="264.1" r="15.2"/><circle cx="319.5" cy="268.2" r="15.2"/><circle cx="324.3" cy="272.3" r="15.2"/><circle cx="329.1" cy="276.2" r="15.2"/><circle cx="333.9" cy="280.2" r="15.2"/><circle cx="338.7" cy="284.1" r="15.2"/><circle cx="343.5" cy="287.9" r="15.2"/><circle cx="348.3" cy="291.7" r="15.2"/><circle cx="353.0" cy="295.5" r="15.2"/><circle cx="357.8" cy="299.2" r="15.2"/><circle cx="362.6" cy="302.8" r="15.2"/><circle cx="367.4" cy="306.4" r="15.2"/><circle cx="372.2" cy="310.0" r="15.2"/><circle cx="377.0" cy="313.5" r="15.2"/><circle cx="381.8" cy="317.0" r="15.2"/><circle cx="386.6" cy="320.5" r="15.2"/><circle cx="391.4" cy="323.9" r="15.2"/><circle cx="396.2" cy="327.3" r="15.2"/><circle cx="401.0" cy="330.6" r="15.2"/><circle cx="405.8" cy="333.9" r="15.2"/><circle cx="410.5" cy="337.2" r="15.2"/><circle cx="415.3" cy="340.4" r="15.2"/><circle cx="420.1" cy="343.6" r="15.2"/><circle cx="424.9" cy="346.8" r="15.2"/><circle cx="429.7" cy="349.9" r="15.2"/><circle cx="434.5" cy="353.0" r="15.2"/><circle cx="439.3" cy="356.1" r="15.2"/><circle cx="444.1" cy="359.1" r="15.2"/><circle cx="448.9" cy="362.1" r="15.2"/><circle cx="453.7" cy="365.1" r="15.2"/><circle cx="458.5" cy="368.0" r="15.2"/><circle cx="463.3" cy="370.9" r="15.2"/><circle cx="468.1" cy="373.8" r="15.2"/><circle cx="472.8" cy="376.7" r="15.2"/><circle cx="477.6" cy="379.5" r="15.2"/><circle cx="482.4" cy="382.3" r="15.2"/><circle cx="487.2" cy="385.1" r="15.2"/><circle cx="492.0" cy="387.9" r="15.2"/><circle cx="496.8" cy="390.6" r="15.2"/><circle cx="501.6" cy="393.3" r="15.2"/><circle cx="506.4" cy="396.0" r="15.2"/><circle cx="511.2" cy="398.7" r="15.2"/><circle cx="516.0" cy="401.3" r="15.2"/><circle cx="520.8" cy="403.9" r="15.2"/><circle cx="525.6" cy="406.5" r="15.2"/><circle cx="530.3" cy="409.1" r="15.2"/><circle cx="535.1" cy="411.7" r="15.2"/><circle cx="539.9" cy="414.2" r="15.2"/><circle cx="544.7" cy="416.7" r="15.2"/><circle cx="549.5" cy="419.2" r="15.2"/><circle cx="554.3" cy="421.7" r="15.2"/><circle cx="559.1" cy="424.1" r="15.2"/><circle cx="563.9" cy="426.5" r="15.2"/><circle cx="568.7" cy="428.9" r="15.2"/><circle cx="573.5" cy="431.3" r="15.2"/><circle cx="578.3" cy="433.7" r="15.2"/><circle cx="583.1" cy="436.1" r="15.2"/><circle cx="587.8" cy="438.4" r="15.2"/><circle cx="592.6" cy="440.7" r="15.2"/><circle cx="597.4" cy="443.0" r="15.2"/><circle cx="602.2" cy="445.3" r="15.2"/><circle cx="607.0" cy="447.6" r="15.2"/><circle cx="611.8" cy="449.8" r="15.2"/><circle cx="616.6" cy="452.0" r="15.2"/><circle cx="621.4" cy="454.3" r="15.2"/><circle cx="626.2" cy="456.5" r="15.2"/><circle cx="631.0" cy="458.6" r="15.2"/><circle cx="635.8" cy="460.8" r="15.2"/><circle cx="640.6" cy="463.0" r="15.2"/><circle cx="645.4" cy="465.1" r="15.2"/><circle cx="650.1" cy="467.2" r="15.2"/><circle cx="654.9" cy="469.3" r="15.2"/><circle cx="659.7" cy="471.4" r="15.2"/><circle cx="664.5" cy="473.5" r="15.2"/><circle cx="669.3" cy="475.6" r="15.2"/><circle cx="674.1" cy="477.6" r="15.2"/><circle cx="678.9" cy="479.7" r="15.2"/><circle cx="683.7" cy="481.7" r="15.2"/><circle cx="688.5" cy="483.7" r="15.2"/><circle cx="693.3" cy="485.7" r="15.2"/><circle cx="698.1" cy="487.7" r="15.2"/><circle cx="702.9" cy="489.6" r="15.2"/><circle cx="707.6" cy="491.6" r="15.2"/><circle cx="712.4" cy="493.6" r="15.2"/><circle cx="717.2" cy="495.5" r="15.2"/><circle cx="722.0" cy="497.4" r="15.2"/><circle cx="726.8" cy="499.3" r="15.2"/><circle cx="731.6" cy="501.2" r="15.2"/><circle cx="736.4" cy="503.1" r="15.2"/><circle cx="741.2" cy="505.0" r="15.2"/><circle cx="746.0" cy="506.8" r="15.2"/><circle cx="750.8" cy="508.7" r="15.2"/><circle cx="755.6" cy="510.5" r="15.2"/><circle cx="760.4" cy="512.4" r="15.2"/><circle cx="765.1" cy="514.2" r="15.2"/><circle cx="769.9" cy="516.0" r="15.2"/><circle cx="774.7" cy="517.8" r="15.2"/><circle cx="779.5" cy="519.6" r="15.2"/><circle cx="784.3" cy="521.3" r="15.2"/><circle cx="789.1" cy="523.1" r="15.2"/><circle cx="793.9" cy="524.9" r="15.2"/><circle cx="798.7" cy="526.6" r="15.2"/><circle cx="803.5" cy="528.3" r="15.2"/><circle cx="808.3" cy="530.1" r="15.2"/><circle cx="813.1" cy="531.8" r="15.2"/><circle cx="817.9" cy="533.5" r="15.2"/><circle cx="822.7" cy="535.2" r="15.2"/><circle cx="827.4" cy="536.9" r="15.2"/><circle cx="832.2" cy="538.5" r="15.2"/><circle cx="837.0" cy="540.2" r="15.2"/><circle cx="841.8" cy="541.9" r="15.2"/><circle cx="846.6" cy="543.5" r="15.2"/><circle cx="851.4" cy="545.2" r="15.2"/><circle cx="856.2" cy="546.8" r="15.2"/><circle cx="861.0" cy="548.4" r="15.2"/><circle cx="865.8" cy="550.0" r="15.2"/><circle cx="870.6" cy="551.6" r="15.2"/><circle cx="875.4" cy="553.2" r="15.2"/><circle cx="880.2" cy="554.8" r="15.2"/><circle cx="884.9" cy="556.4" r="15.2"/><circle cx="889.7" cy="558.0" r="15.2"/><circle cx="894.5" cy="559.5" r="15.2"/><circle cx="899.3" cy="561.1" r="15.2"/><circle cx="904.1" cy="562.7" r="15.2"/><circle cx="908.9" cy="564.2" r="15.2"/><circle cx="913.7" cy="565.7" r="15.2"/><circle cx="918.5" cy="567.3" r="15.2"/><circle cx="923.3" cy="568.8" r="15.2"/><circle cx="928.1" cy="570.3" r="15.2"/><circle cx="932.9" cy="571.8" r="15.2"/><circle cx="937.7" cy="573.3" r="15.2"/><circle cx="942.4" cy="574.8" r="15.2"/><circle cx="947.2" cy="576.2" r="15.2"/><circle cx="952.0" cy="577.7" r="15.2"/><circle cx="956.8" cy="579.2" r="15.2"/><circle cx="961.6" cy="580.6" r="15.2"/><circle cx="966.4" cy="582.1" r="15.2"/><circle cx="971.2" cy="583.5" r="15.2"/><circle cx="976.0" cy="585.0" r="15.2"/><circle cx="980.8" cy="586.4" r="15.2"/><circle cx="985.6" cy="587.8" r="15.2"/><circle cx="990.4" cy="589.3" r="15.2"/><circle cx="995.2" cy="590.7" r="15.2"/><circle cx="1000.0" cy="592.1" r="15.2"/><circle cx="1004.7" cy="593.5" r="15.2"/><circle cx="1009.5" cy="594.9" r="15.2"/><circle cx="1014.3" cy="596.3" r="15.2"/><circle cx="1019.1" cy="597.6" r="15.2"/><circle cx="1023.9" cy="599.0" r="15.2"/><circle cx="1028.7" cy="600.4" r="15.2"/><circle cx="1033.5" cy="601.7" r="15.2"/><circle cx="1038.3" cy="603.1" r="15.2"/><circle cx="1043.1" cy="604.4" r="15.2"/><circle cx="1047.9" cy="605.8" r="15.2"/><circle cx="1052.7" cy="607.1" r="15.2"/><circle cx="1057.5" cy="608.5" r="15.2"/><circle cx="1062.2" cy="609.8" r="15.2"/><circle cx="1067.0" cy="611.1" r="15.2"/><circle cx="1071.8" cy="612.4" r="15.2"/><circle cx="1076.6" cy="613.7" r="15.2"/><circle cx="1081.4" cy="615.0" r="15.2"/><circle cx="1086.2" cy="616.3" r="15.2"/><circle cx="1091.0" cy="617.6" r="15.2"/><circle cx="1095.8" cy="618.9" r="15.2"/><circle cx="1100.6" cy="620.2" r="15.2"/><circle cx="1105.4" cy="621.5" r="15.2"/><circle cx="1110.2" cy="622.7" r="15.2"/><circle cx="1115.0" cy="624.0" r="15.2"/><circle cx="1119.7" cy="625.3" r="15.2"/><circle cx="1124.5" cy="626.5" r="15.2"/><circle cx="1129.3" cy="627.8" r="15.2"/><circle cx="1134.1" cy="629.0" r="15.2"/><circle cx="1138.9" cy="630.2" r="15.2"/><circle cx="1143.7" cy="631.5" r="15.2"/><circle cx="1148.5" cy="632.7" r="15.2"/><circle cx="1153.3" cy="633.9" r="15.2"/><circle cx="1158.1" cy="635.1" r="15.2"/><circle cx="1162.9" cy="636.4" r="15.2"/><circle cx="1167.7" cy="637.6" r="15.2"/><circle cx="1172.5" cy="638.8" r="15.2"/><circle cx="1177.3" cy="640.0" r="15.2"/><circle cx="1182.0" cy="641.2" r="15.2"/><circle cx="1186.8" cy="642.4" r="15.2"/><circle cx="1191.6" cy="643.5" r="15.2"/><circle cx="1196.4" cy="644.7" r="15.2"/><circle cx="1201.2" cy="645.9" r="15.2"/><circle cx="1206.0" cy="647.1" r="15.2"/><circle cx="1210.8" cy="648.2" r="15.2"/><circle cx="1215.6" cy="649.4" r="15.2"/><circle cx="1220.4" cy="650.6" r="15.2"/><circle cx="1225.2" cy="651.7" r="15.2"/><circle cx="1230.0" cy="652.9" r="15.2"/><circle cx="1234.8" cy="654.0" r="15.2"/><circle cx="1239.5" cy="655.2" r="15.2"/><circle cx="1244.3" cy="656.3" r="15.2"/><circle cx="1249.1" cy="657.4" r="15.2"/><circle cx="1253.9" cy="658.6" r="15.2"/><circle cx="1258.7" cy="659.7" r="15.2"/><circle cx="1263.5" cy="660.8" r="15.2"/><circle cx="1268.3" cy="661.9" r="15.2"/><circle cx="1273.1" cy="663.0" r="15.2"/><circle cx="1277.9" cy="664.1" r="15.2"/><circle cx="1282.7" cy="665.2" r="15.2"/><circle cx="1287.5" cy="666.3" r="15.2"/><circle cx="1292.3" cy="667.4" r="15.2"/><circle cx="1297.0" cy="668.5" r="15.2"/><circle cx="1301.8" cy="669.6" r="15.2"/><circle cx="1306.6" cy="670.7" r="15.2"/><circle cx="1311.4" cy="671.8" r="15.2"/><circle cx="1316.2" cy="672.9" r="15.2"/><circle cx="1321.0" cy="673.9" r="15.2"/><circle cx="1325.8" cy="675.0" r="15.2"/><circle cx="1330.6" cy="676.1" r="15.2"/><circle cx="1335.4" cy="677.1" r="15.2"/><circle cx="1340.2" cy="678.2" r="15.2"/><circle cx="1345.0" cy="679.2" r="15.2"/><circle cx="1349.8" cy="680.3" r="15.2"/><circle cx="1354.6" cy="681.3" r="15.2"/><circle cx="1359.3" cy="682.4" r="15.2"/><circle cx="1364.1" cy="683.4" r="15.2"/><circle cx="1368.9" cy="684.5" r="15.2"/><circle cx="1373.7" cy="685.5" r="15.2"/><circle cx="1378.5" cy="686.5" r="15.2"/><circle cx="1383.3" cy="687.5" r="15.2"/><circle cx="1388.1" cy="688.6" r="15.2"/><circle cx="1392.9" cy="689.6" r="15.2"/><circle cx="1397.7" cy="690.6" r="15.2"/><circle cx="1402.5" cy="691.6" r="15.2"/><circle cx="1407.3" cy="692.6" r="15.2"/><circle cx="1412.1" cy="693.6" r="15.2"/><circle cx="1416.8" cy="694.6" r="15.2"/><circle cx="1421.6" cy="695.6" r="15.2"/><circle cx="1426.4" cy="696.6" r="15.2"/><circle cx="1431.2" cy="697.6" r="15.2"/><circle cx="1436.0" cy="698.6" r="15.2"/><circle cx="1440.8" cy="699.6" r="15.2"/><circle cx="1445.6" cy="700.6" r="15.2"/><circle cx="1450.4" cy="701.6" r="15.2"/><circle cx="1455.2" cy="702.5" r="15.2"/><circle cx="1460.0" cy="703.5" r="15.2"/><circle cx="1464.8" cy="704.5" r="15.2"/><circle cx="1469.6" cy="705.4" r="15.2"/><circle cx="1474.3" cy="706.4" r="15.2"/><circle cx="1479.1" cy="707.4" r="15.2"/><circle cx="1483.9" cy="708.3" r="15.2"/><circle cx="1488.7" cy="709.3" r="15.2"/><circle cx="1493.5" cy="710.2" r="15.2"/><circle cx="1498.3" cy="711.2" r="15.2"/><circle cx="1503.1" cy="712.1" r="15.2"/><circle cx="1507.9" cy="713.1" r="15.2"/><circle cx="1512.7" cy="714.0" r="15.2"/><circle cx="1517.5" cy="714.9" r="15.2"/><circle cx="1522.3" cy="715.9" r="15.2"/><circle cx="1527.1" cy="716.8" r="15.2"/><circle cx="1531.9" cy="717.7" r="15.2"/><circle cx="1536.6" cy="718.7" r="15.2"/><circle cx="1541.4" cy="719.6" r="15.2"/><circle cx="1546.2" cy="720.5" r="15.2"/><circle cx="1551.0" cy="721.4" r="15.2"/><circle cx="1555.8" cy="722.3" r="15.2"/><circle cx="1560.6" cy="723.2" r="15.2"/><circle cx="1565.4" cy="724.2" r="15.2"/><circle cx="1570.2" cy="725.1" r="15.2"/><circle cx="1575.0" cy="726.0" r="15.2"/><circle cx="1579.8" cy="726.9" r="15.2"/><circle cx="1584.6" cy="727.8" r="15.2"/><circle cx="1589.4" cy="728.7" r="15.2"/><circle cx="1594.1" cy="729.6" r="15.2"/><circle cx="1598.9" cy="730.4" r="15.2"/><circle cx="1603.7" cy="731.3" r="15.2"/><circle cx="1608.5" cy="732.2" r="15.2"/><circle cx="1613.3" cy="733.1" r="15.2"/><circle cx="1618.1" cy="734.0" r="15.2"/><circle cx="1622.9" cy="734.9" r="15.2"/><circle cx="1627.7" cy="735.7" r="15.2"/><circle cx="1632.5" cy="736.6" r="15.2"/><circle cx="1637.3" cy="737.5" r="15.2"/><circle cx="1642.1" cy="738.3" r="15.2"/><circle cx="1646.9" cy="739.2" r="15.2"/><circle cx="1651.6" cy="740.1" r="15.2"/><circle cx="1656.4" cy="740.9" r="15.2"/><circle cx="1661.2" cy="741.8" r="15.2"/><circle cx="1666.0" cy="742.6" r="15.2"/><circle cx="1670.8" cy="743.5" r="15.2"/><circle cx="1675.6" cy="744.3" r="15.2"/><circle cx="1680.4" cy="745.2" r="15.2"/><circle cx="1685.2" cy="746.0" r="15.2"/><circle cx="1690.0" cy="746.9" r="15.2"/><circle cx="1694.8" cy="747.7" r="15.2"/><circle cx="1699.6" cy="748.6" r="15.2"/><circle cx="1704.4" cy="749.4" r="15.2"/><circle cx="1709.2" cy="750.2" r="15.2"/><circle cx="1713.9" cy="751.1" r="15.2"/><circle cx="1718.7" cy="751.9" r="15.2"/><circle cx="1723.5" cy="752.7" r="15.2"/><circle cx="1728.3" cy="753.5" r="15.2"/><circle cx="1733.1" cy="754.4" r="15.2"/><circle cx="1737.9" cy="755.2" r="15.2"/><circle cx="1742.7" cy="756.0" r="15.2"/><circle cx="1747.5" cy="756.8" r="15.2"/><circle cx="1752.3" cy="757.6" r="15.2"/><circle cx="1757.1" cy="758.4" r="15.2"/><circle cx="1761.9" cy="759.3" r="15.2"/><circle cx="1766.7" cy="760.1" r="15.2"/><circle cx="1771.4" cy="760.9" r="15.2"/><circle cx="1776.2" cy="761.7" r="15.2"/><circle cx="1781.0" cy="762.5" r="15.2"/><circle cx="1785.8" cy="763.3" r="15.2"/><circle cx="1790.6" cy="764.1" r="15.2"/><circle cx="1795.4" cy="764.9" r="15.2"/><circle cx="1800.2" cy="765.7" r="15.2"/><circle cx="1805.0" cy="766.5" r="15.2"/><circle cx="1809.8" cy="767.2" r="15.2"/><circle cx="1814.6" cy="768.0" r="15.2"/><circle cx="1819.4" cy="768.8" r="15.2"/><circle cx="1824.2" cy="769.6" r="15.2"/><circle cx="1828.9" cy="770.4" r="15.2"/><circle cx="1833.7" cy="771.2" r="15.2"/><circle cx="1838.5" cy="771.9" r="15.2"/><circle cx="1843.3" cy="772.7" r="15.2"/><circle cx="1848.1" cy="773.5" r="15.2"/><circle cx="1852.9" cy="774.2" r="15.2"/><circle cx="1857.7" cy="775.0" r="15.2"/><circle cx="1862.5" cy="775.8" r="15.2"/><circle cx="1867.3" cy="776.5" r="15.2"/><circle cx="1872.1" cy="777.3" r="15.2"/><circle cx="1876.9" cy="778.1" r="15.2"/><circle cx="1881.7" cy="778.8" r="15.2"/><circle cx="1886.5" cy="779.6" r="15.2"/><circle cx="1891.2" cy="780.3" r="15.2"/><circle cx="1896.0" cy="781.1" r="15.2"/><circle cx="1900.8" cy="781.8" r="15.2"/><circle cx="1905.6" cy="782.6" r="15.2"/><circle cx="1910.4" cy="783.3" r="15.2"/><circle cx="1915.2" cy="784.1" r="15.2"/><circle cx="1920.0" cy="784.8" r="15.2"/><circle cx="1924.8" cy="785.6" r="15.2"/><circle cx="1929.6" cy="786.3" r="15.2"/><circle cx="1934.4" cy="787.1" r="15.2"/><circle cx="1939.2" cy="787.8" r="15.2"/><circle cx="1944.0" cy="788.5" r="15.2"/><circle cx="1948.7" cy="789.3" r="15.2"/><circle cx="1953.5" cy="790.0" r="15.2"/><circle cx="1958.3" cy="790.7" r="15.2"/><circle cx="1963.1" cy="791.4" r="15.2"/><circle cx="1967.9" cy="792.2" r="15.2"/><circle cx="1972.7" cy="792.9" r="15.2"/><circle cx="1977.5" cy="793.6" r="15.2"/><circle cx="1982.3" cy="794.3" r="15.2"/><circle cx="1987.1" cy="795.1" r="15.2"/><circle cx="1991.9" cy="795.8" r="15.2"/><circle cx="1996.7" cy="796.5" r="15.2"/><circle cx="2001.5" cy="797.2" r="15.2"/><circle cx="2006.2" cy="797.9" r="15.2"/><circle cx="2011.0" cy="798.6" r="15.2"/><circle cx="2015.8" cy="799.3" r="15.2"/><circle cx="2020.6" cy="800.1" r="15.2"/><circle cx="2025.4" cy="800.8" r="15.2"/><circle cx="2030.2" cy="801.5" r="15.2"/><circle cx="2035.0" cy="802.2" r="15.2"/>
</g>
<g fill="url(#rc)">
<circle cx="262.0" cy="163.8" r="15.2"/><circle cx="266.8" cy="168.6" r="15.2"/><circle cx="271.6" cy="173.4" r="15.2"/><circle cx="276.4" cy="178.0" r="15.2"/><circle cx="281.2" cy="182.6" r="15.2"/><circle cx="286.0" cy="187.2" r="15.2"/><circle cx="290.8" cy="191.6" r="15.2"/><circle cx="295.5" cy="196.0" r="15.2"/><circle cx="300.3" cy="200.4" r="15.2"/><circle cx="305.1" cy="204.6" r="15.2"/><circle cx="309.9" cy="208.9" r="15.2"/><circle cx="314.7" cy="213.0" r="15.2"/><circle cx="319.5" cy="217.1" r="15.2"/><circle cx="324.3" cy="221.2" r="15.2"/><circle cx="329.1" cy="225.2" r="15.2"/><circle cx="333.9" cy="229.1" r="15.2"/><circle cx="338.7" cy="233.0" r="15.2"/><circle cx="343.5" cy="236.8" r="15.2"/><circle cx="348.3" cy="240.6" r="15.2"/><circle cx="353.0" cy="244.4" r="15.2"/><circle cx="357.8" cy="248.1" r="15.2"/><circle cx="362.6" cy="251.8" r="15.2"/><circle cx="367.4" cy="255.4" r="15.2"/><circle cx="372.2" cy="258.9" r="15.2"/><circle cx="377.0" cy="262.5" r="15.2"/><circle cx="381.8" cy="266.0" r="15.2"/><circle cx="386.6" cy="269.4" r="15.2"/><circle cx="391.4" cy="272.8" r="15.2"/><circle cx="396.2" cy="276.2" r="15.2"/><circle cx="401.0" cy="279.5" r="15.2"/><circle cx="405.8" cy="282.8" r="15.2"/><circle cx="410.5" cy="286.1" r="15.2"/><circle cx="415.3" cy="289.3" r="15.2"/><circle cx="420.1" cy="292.5" r="15.2"/><circle cx="424.9" cy="295.7" r="15.2"/><circle cx="429.7" cy="298.8" r="15.2"/><circle cx="434.5" cy="301.9" r="15.2"/><circle cx="439.3" cy="305.0" r="15.2"/><circle cx="444.1" cy="308.0" r="15.2"/><circle cx="448.9" cy="311.0" r="15.2"/><circle cx="453.7" cy="314.0" r="15.2"/><circle cx="458.5" cy="316.9" r="15.2"/><circle cx="463.3" cy="319.9" r="15.2"/><circle cx="468.1" cy="322.8" r="15.2"/><circle cx="472.8" cy="325.6" r="15.2"/><circle cx="477.6" cy="328.5" r="15.2"/><circle cx="482.4" cy="331.3" r="15.2"/><circle cx="487.2" cy="334.1" r="15.2"/><circle cx="492.0" cy="336.8" r="15.2"/><circle cx="496.8" cy="339.5" r="15.2"/><circle cx="501.6" cy="342.3" r="15.2"/><circle cx="506.4" cy="344.9" r="15.2"/><circle cx="511.2" cy="347.6" r="15.2"/><circle cx="516.0" cy="350.2" r="15.2"/><circle cx="520.8" cy="352.9" r="15.2"/><circle cx="525.6" cy="355.5" r="15.2"/><circle cx="530.3" cy="358.0" r="15.2"/><circle cx="535.1" cy="360.6" r="15.2"/><circle cx="539.9" cy="363.1" r="15.2"/><circle cx="544.7" cy="365.6" r="15.2"/><circle cx="549.5" cy="368.1" r="15.2"/><circle cx="554.3" cy="370.6" r="15.2"/><circle cx="559.1" cy="373.0" r="15.2"/><circle cx="563.9" cy="375.5" r="15.2"/><circle cx="568.7" cy="377.9" r="15.2"/><circle cx="573.5" cy="380.3" r="15.2"/><circle cx="578.3" cy="382.6" r="15.2"/><circle cx="583.1" cy="385.0" r="15.2"/><circle cx="587.8" cy="387.3" r="15.2"/><circle cx="592.6" cy="389.6" r="15.2"/><circle cx="597.4" cy="391.9" r="15.2"/><circle cx="602.2" cy="394.2" r="15.2"/><circle cx="607.0" cy="396.5" r="15.2"/><circle cx="611.8" cy="398.7" r="15.2"/><circle cx="616.6" cy="401.0" r="15.2"/><circle cx="621.4" cy="403.2" r="15.2"/><circle cx="626.2" cy="405.4" r="15.2"/><circle cx="631.0" cy="407.6" r="15.2"/><circle cx="635.8" cy="409.7" r="15.2"/><circle cx="640.6" cy="411.9" r="15.2"/><circle cx="645.4" cy="414.0" r="15.2"/><circle cx="650.1" cy="416.1" r="15.2"/><circle cx="654.9" cy="418.3" r="15.2"/><circle cx="659.7" cy="420.3" r="15.2"/><circle cx="664.5" cy="422.4" r="15.2"/><circle cx="669.3" cy="424.5" r="15.2"/><circle cx="674.1" cy="426.5" r="15.2"/><circle cx="678.9" cy="428.6" r="15.2"/><circle cx="683.7" cy="430.6" r="15.2"/><circle cx="688.5" cy="432.6" r="15.2"/><circle cx="693.3" cy="434.6" r="15.2"/><circle cx="698.1" cy="436.6" r="15.2"/><circle cx="702.9" cy="438.6" r="15.2"/><circle cx="707.6" cy="440.5" r="15.2"/><circle cx="712.4" cy="442.5" r="15.2"/><circle cx="717.2" cy="444.4" r="15.2"/><circle cx="722.0" cy="446.3" r="15.2"/><circle cx="726.8" cy="448.2" r="15.2"/><circle cx="731.6" cy="450.1" r="15.2"/><circle cx="736.4" cy="452.0" r="15.2"/><circle cx="741.2" cy="453.9" r="15.2"/><circle cx="746.0" cy="455.8" r="15.2"/><circle cx="750.8" cy="457.6" r="15.2"/><circle cx="755.6" cy="459.5" r="15.2"/><circle cx="760.4" cy="461.3" r="15.2"/><circle cx="765.1" cy="463.1" r="15.2"/><circle cx="769.9" cy="464.9" r="15.2"/><circle cx="774.7" cy="466.7" r="15.2"/><circle cx="779.5" cy="468.5" r="15.2"/><circle cx="784.3" cy="470.3" r="15.2"/><circle cx="789.1" cy="472.0" r="15.2"/><circle cx="793.9" cy="473.8" r="15.2"/><circle cx="798.7" cy="475.5" r="15.2"/><circle cx="803.5" cy="477.3" r="15.2"/><circle cx="808.3" cy="479.0" r="15.2"/><circle cx="813.1" cy="480.7" r="15.2"/><circle cx="817.9" cy="482.4" r="15.2"/><circle cx="822.7" cy="484.1" r="15.2"/><circle cx="827.4" cy="485.8" r="15.2"/><circle cx="832.2" cy="487.5" r="15.2"/><circle cx="837.0" cy="489.1" r="15.2"/><circle cx="841.8" cy="490.8" r="15.2"/><circle cx="846.6" cy="492.4" r="15.2"/><circle cx="851.4" cy="494.1" r="15.2"/><circle cx="856.2" cy="495.7" r="15.2"/><circle cx="861.0" cy="497.3" r="15.2"/><circle cx="865.8" cy="499.0" r="15.2"/><circle cx="870.6" cy="500.6" r="15.2"/><circle cx="875.4" cy="502.2" r="15.2"/><circle cx="880.2" cy="503.7" r="15.2"/><circle cx="884.9" cy="505.3" r="15.2"/><circle cx="889.7" cy="506.9" r="15.2"/><circle cx="894.5" cy="508.5" r="15.2"/><circle cx="899.3" cy="510.0" r="15.2"/><circle cx="904.1" cy="511.6" r="15.2"/><circle cx="908.9" cy="513.1" r="15.2"/><circle cx="913.7" cy="514.6" r="15.2"/><circle cx="918.5" cy="516.2" r="15.2"/><circle cx="923.3" cy="517.7" r="15.2"/><circle cx="928.1" cy="519.2" r="15.2"/><circle cx="932.9" cy="520.7" r="15.2"/><circle cx="937.7" cy="522.2" r="15.2"/><circle cx="942.4" cy="523.7" r="15.2"/><circle cx="947.2" cy="525.2" r="15.2"/><circle cx="952.0" cy="526.6" r="15.2"/><circle cx="956.8" cy="528.1" r="15.2"/><circle cx="961.6" cy="529.6" r="15.2"/><circle cx="966.4" cy="531.0" r="15.2"/><circle cx="971.2" cy="532.5" r="15.2"/><circle cx="976.0" cy="533.9" r="15.2"/><circle cx="980.8" cy="535.3" r="15.2"/><circle cx="985.6" cy="536.8" r="15.2"/><circle cx="990.4" cy="538.2" r="15.2"/><circle cx="995.2" cy="539.6" r="15.2"/><circle cx="1000.0" cy="541.0" r="15.2"/><circle cx="1004.7" cy="542.4" r="15.2"/><circle cx="1009.5" cy="543.8" r="15.2"/><circle cx="1014.3" cy="545.2" r="15.2"/><circle cx="1019.1" cy="546.6" r="15.2"/><circle cx="1023.9" cy="547.9" r="15.2"/><circle cx="1028.7" cy="549.3" r="15.2"/><circle cx="1033.5" cy="550.7" r="15.2"/><circle cx="1038.3" cy="552.0" r="15.2"/><circle cx="1043.1" cy="553.4" r="15.2"/><circle cx="1047.9" cy="554.7" r="15.2"/><circle cx="1052.7" cy="556.0" r="15.2"/><circle cx="1057.5" cy="557.4" r="15.2"/><circle cx="1062.2" cy="558.7" r="15.2"/><circle cx="1067.0" cy="560.0" r="15.2"/><circle cx="1071.8" cy="561.3" r="15.2"/><circle cx="1076.6" cy="562.6" r="15.2"/><circle cx="1081.4" cy="564.0" r="15.2"/><circle cx="1086.2" cy="565.2" r="15.2"/><circle cx="1091.0" cy="566.5" r="15.2"/><circle cx="1095.8" cy="567.8" r="15.2"/><circle cx="1100.6" cy="569.1" r="15.2"/><circle cx="1105.4" cy="570.4" r="15.2"/><circle cx="1110.2" cy="571.7" r="15.2"/><circle cx="1115.0" cy="572.9" r="15.2"/><circle cx="1119.7" cy="574.2" r="15.2"/><circle cx="1124.5" cy="575.4" r="15.2"/><circle cx="1129.3" cy="576.7" r="15.2"/><circle cx="1134.1" cy="577.9" r="15.2"/><circle cx="1138.9" cy="579.2" r="15.2"/><circle cx="1143.7" cy="580.4" r="15.2"/><circle cx="1148.5" cy="581.6" r="15.2"/><circle cx="1153.3" cy="582.9" r="15.2"/><circle cx="1158.1" cy="584.1" r="15.2"/><circle cx="1162.9" cy="585.3" r="15.2"/><circle cx="1167.7" cy="586.5" r="15.2"/><circle cx="1172.5" cy="587.7" r="15.2"/><circle cx="1177.3" cy="588.9" r="15.2"/><circle cx="1182.0" cy="590.1" r="15.2"/><circle cx="1186.8" cy="591.3" r="15.2"/><circle cx="1191.6" cy="592.5" r="15.2"/><circle cx="1196.4" cy="593.7" r="15.2"/><circle cx="1201.2" cy="594.8" r="15.2"/><circle cx="1206.0" cy="596.0" r="15.2"/><circle cx="1210.8" cy="597.2" r="15.2"/><circle cx="1215.6" cy="598.3" r="15.2"/><circle cx="1220.4" cy="599.5" r="15.2"/><circle cx="1225.2" cy="600.6" r="15.2"/><circle cx="1230.0" cy="601.8" r="15.2"/><circle cx="1234.8" cy="602.9" r="15.2"/><circle cx="1239.5" cy="604.1" r="15.2"/><circle cx="1244.3" cy="605.2" r="15.2"/><circle cx="1249.1" cy="606.4" r="15.2"/><circle cx="1253.9" cy="607.5" r="15.2"/><circle cx="1258.7" cy="608.6" r="15.2"/><circle cx="1263.5" cy="609.7" r="15.2"/><circle cx="1268.3" cy="610.8" r="15.2"/><circle cx="1273.1" cy="612.0" r="15.2"/><circle cx="1277.9" cy="613.1" r="15.2"/><circle cx="1282.7" cy="614.2" r="15.2"/><circle cx="1287.5" cy="615.3" r="15.2"/><circle cx="1292.3" cy="616.4" r="15.2"/><circle cx="1297.0" cy="617.5" r="15.2"/><circle cx="1301.8" cy="618.5" r="15.2"/><circle cx="1306.6" cy="619.6" r="15.2"/><circle cx="1311.4" cy="620.7" r="15.2"/><circle cx="1316.2" cy="621.8" r="15.2"/><circle cx="1321.0" cy="622.9" r="15.2"/><circle cx="1325.8" cy="623.9" r="15.2"/><circle cx="1330.6" cy="625.0" r="15.2"/><circle cx="1335.4" cy="626.1" r="15.2"/><circle cx="1340.2" cy="627.1" r="15.2"/><circle cx="1345.0" cy="628.2" r="15.2"/><circle cx="1349.8" cy="629.2" r="15.2"/><circle cx="1354.6" cy="630.3" r="15.2"/><circle cx="1359.3" cy="631.3" r="15.2"/><circle cx="1364.1" cy="632.3" r="15.2"/><circle cx="1368.9" cy="633.4" r="15.2"/><circle cx="1373.7" cy="634.4" r="15.2"/><circle cx="1378.5" cy="635.4" r="15.2"/><circle cx="1383.3" cy="636.5" r="15.2"/><circle cx="1388.1" cy="637.5" r="15.2"/><circle cx="1392.9" cy="638.5" r="15.2"/><circle cx="1397.7" cy="639.5" r="15.2"/><circle cx="1402.5" cy="640.5" r="15.2"/><circle cx="1407.3" cy="641.5" r="15.2"/><circle cx="1412.1" cy="642.6" r="15.2"/><circle cx="1416.8" cy="643.6" r="15.2"/><circle cx="1421.6" cy="644.6" r="15.2"/><circle cx="1426.4" cy="645.5" r="15.2"/><circle cx="1431.2" cy="646.5" r="15.2"/><circle cx="1436.0" cy="647.5" r="15.2"/><circle cx="1440.8" cy="648.5" r="15.2"/><circle cx="1445.6" cy="649.5" r="15.2"/><circle cx="1450.4" cy="650.5" r="15.2"/><circle cx="1455.2" cy="651.5" r="15.2"/><circle cx="1460.0" cy="652.4" r="15.2"/><circle cx="1464.8" cy="653.4" r="15.2"/><circle cx="1469.6" cy="654.4" r="15.2"/><circle cx="1474.3" cy="655.3" r="15.2"/><circle cx="1479.1" cy="656.3" r="15.2"/><circle cx="1483.9" cy="657.2" r="15.2"/><circle cx="1488.7" cy="658.2" r="15.2"/><circle cx="1493.5" cy="659.2" r="15.2"/><circle cx="1498.3" cy="660.1" r="15.2"/><circle cx="1503.1" cy="661.0" r="15.2"/><circle cx="1507.9" cy="662.0" r="15.2"/><circle cx="1512.7" cy="662.9" r="15.2"/><circle cx="1517.5" cy="663.9" r="15.2"/><circle cx="1522.3" cy="664.8" r="15.2"/><circle cx="1527.1" cy="665.7" r="15.2"/><circle cx="1531.9" cy="666.7" r="15.2"/><circle cx="1536.6" cy="667.6" r="15.2"/><circle cx="1541.4" cy="668.5" r="15.2"/><circle cx="1546.2" cy="669.4" r="15.2"/><circle cx="1551.0" cy="670.3" r="15.2"/><circle cx="1555.8" cy="671.3" r="15.2"/><circle cx="1560.6" cy="672.2" r="15.2"/><circle cx="1565.4" cy="673.1" r="15.2"/><circle cx="1570.2" cy="674.0" r="15.2"/><circle cx="1575.0" cy="674.9" r="15.2"/><circle cx="1579.8" cy="675.8" r="15.2"/><circle cx="1584.6" cy="676.7" r="15.2"/><circle cx="1589.4" cy="677.6" r="15.2"/><circle cx="1594.1" cy="678.5" r="15.2"/><circle cx="1598.9" cy="679.4" r="15.2"/><circle cx="1603.7" cy="680.3" r="15.2"/><circle cx="1608.5" cy="681.1" r="15.2"/><circle cx="1613.3" cy="682.0" r="15.2"/><circle cx="1618.1" cy="682.9" r="15.2"/><circle cx="1622.9" cy="683.8" r="15.2"/><circle cx="1627.7" cy="684.7" r="15.2"/><circle cx="1632.5" cy="685.5" r="15.2"/><circle cx="1637.3" cy="686.4" r="15.2"/><circle cx="1642.1" cy="687.3" r="15.2"/><circle cx="1646.9" cy="688.1" r="15.2"/><circle cx="1651.6" cy="689.0" r="15.2"/><circle cx="1656.4" cy="689.9" r="15.2"/><circle cx="1661.2" cy="690.7" r="15.2"/><circle cx="1666.0" cy="691.6" r="15.2"/><circle cx="1670.8" cy="692.4" r="15.2"/><circle cx="1675.6" cy="693.3" r="15.2"/><circle cx="1680.4" cy="694.1" r="15.2"/><circle cx="1685.2" cy="695.0" r="15.2"/><circle cx="1690.0" cy="695.8" r="15.2"/><circle cx="1694.8" cy="696.6" r="15.2"/><circle cx="1699.6" cy="697.5" r="15.2"/><circle cx="1704.4" cy="698.3" r="15.2"/><circle cx="1709.2" cy="699.2" r="15.2"/><circle cx="1713.9" cy="700.0" r="15.2"/><circle cx="1718.7" cy="700.8" r="15.2"/><circle cx="1723.5" cy="701.6" r="15.2"/><circle cx="1728.3" cy="702.5" r="15.2"/><circle cx="1733.1" cy="703.3" r="15.2"/><circle cx="1737.9" cy="704.1" r="15.2"/><circle cx="1742.7" cy="704.9" r="15.2"/><circle cx="1747.5" cy="705.7" r="15.2"/><circle cx="1752.3" cy="706.6" r="15.2"/><circle cx="1757.1" cy="707.4" r="15.2"/><circle cx="1761.9" cy="708.2" r="15.2"/><circle cx="1766.7" cy="709.0" r="15.2"/><circle cx="1771.4" cy="709.8" r="15.2"/><circle cx="1776.2" cy="710.6" r="15.2"/><circle cx="1781.0" cy="711.4" r="15.2"/><circle cx="1785.8" cy="712.2" r="15.2"/><circle cx="1790.6" cy="713.0" r="15.2"/><circle cx="1795.4" cy="713.8" r="15.2"/><circle cx="1800.2" cy="714.6" r="15.2"/><circle cx="1805.0" cy="715.4" r="15.2"/><circle cx="1809.8" cy="716.2" r="15.2"/><circle cx="1814.6" cy="716.9" r="15.2"/><circle cx="1819.4" cy="717.7" r="15.2"/><circle cx="1824.2" cy="718.5" r="15.2"/><circle cx="1828.9" cy="719.3" r="15.2"/><circle cx="1833.7" cy="720.1" r="15.2"/><circle cx="1838.5" cy="720.9" r="15.2"/><circle cx="1843.3" cy="721.6" r="15.2"/><circle cx="1848.1" cy="722.4" r="15.2"/><circle cx="1852.9" cy="723.2" r="15.2"/><circle cx="1857.7" cy="723.9" r="15.2"/><circle cx="1862.5" cy="724.7" r="15.2"/><circle cx="1867.3" cy="725.5" r="15.2"/><circle cx="1872.1" cy="726.2" r="15.2"/><circle cx="1876.9" cy="727.0" r="15.2"/><circle cx="1881.7" cy="727.8" r="15.2"/><circle cx="1886.5" cy="728.5" r="15.2"/><circle cx="1891.2" cy="729.3" r="15.2"/><circle cx="1896.0" cy="730.0" r="15.2"/><circle cx="1900.8" cy="730.8" r="15.2"/><circle cx="1905.6" cy="731.5" r="15.2"/><circle cx="1910.4" cy="732.3" r="15.2"/><circle cx="1915.2" cy="733.0" r="15.2"/><circle cx="1920.0" cy="733.8" r="15.2"/><circle cx="1924.8" cy="734.5" r="15.2"/><circle cx="1929.6" cy="735.2" r="15.2"/><circle cx="1934.4" cy="736.0" r="15.2"/><circle cx="1939.2" cy="736.7" r="15.2"/><circle cx="1944.0" cy="737.4" r="15.2"/><circle cx="1948.7" cy="738.2" r="15.2"/><circle cx="1953.5" cy="738.9" r="15.2"/><circle cx="1958.3" cy="739.6" r="15.2"/><circle cx="1963.1" cy="740.4" r="15.2"/><circle cx="1967.9" cy="741.1" r="15.2"/><circle cx="1972.7" cy="741.8" r="15.2"/><circle cx="1977.5" cy="742.5" r="15.2"/><circle cx="1982.3" cy="743.3" r="15.2"/><circle cx="1987.1" cy="744.0" r="15.2"/><circle cx="1991.9" cy="744.7" r="15.2"/><circle cx="1996.7" cy="745.4" r="15.2"/><circle cx="2001.5" cy="746.1" r="15.2"/><circle cx="2006.2" cy="746.8" r="15.2"/><circle cx="2011.0" cy="747.6" r="15.2"/><circle cx="2015.8" cy="748.3" r="15.2"/><circle cx="2020.6" cy="749.0" r="15.2"/><circle cx="2025.4" cy="749.7" r="15.2"/><circle cx="2030.2" cy="750.4" r="15.2"/><circle cx="2035.0" cy="751.1" r="15.2"/>
</g>
<g fill="url(#rg)">
<circle cx="262.0" cy="125.7" r="15.2"/><circle cx="266.8" cy="130.5" r="15.2"/><circle cx="271.6" cy="135.2" r="15.2"/><circle cx="276.4" cy="139.9" r="15.2"/><circle cx="281.2" cy="144.5" r="15.2"/><circle cx="286.0" cy="149.0" r="15.2"/><circle cx="290.8" cy="153.5" r="15.2"/><circle cx="295.5" cy="157.9" r="15.2"/><circle cx="300.3" cy="162.2" r="15.2"/><circle cx="305.1" cy="166.5" r="15.2"/><circle cx="309.9" cy="170.7" r="15.2"/><circle cx="314.7" cy="174.9" r="15.2"/><circle cx="319.5" cy="179.0" r="15.2"/><circle cx="324.3" cy="183.0" r="15.2"/><circle cx="329.1" cy="187.0" r="15.2"/><circle cx="333.9" cy="191.0" r="15.2"/><circle cx="338.7" cy="194.9" r="15.2"/><circle cx="343.5" cy="198.7" r="15.2"/><circle cx="348.3" cy="202.5" r="15.2"/><circle cx="353.0" cy="206.2" r="15.2"/><circle cx="357.8" cy="209.9" r="15.2"/><circle cx="362.6" cy="213.6" r="15.2"/><circle cx="367.4" cy="217.2" r="15.2"/><circle cx="372.2" cy="220.8" r="15.2"/><circle cx="377.0" cy="224.3" r="15.2"/><circle cx="381.8" cy="227.8" r="15.2"/><circle cx="386.6" cy="231.3" r="15.2"/><circle cx="391.4" cy="234.7" r="15.2"/><circle cx="396.2" cy="238.0" r="15.2"/><circle cx="401.0" cy="241.4" r="15.2"/><circle cx="405.8" cy="244.7" r="15.2"/><circle cx="410.5" cy="247.9" r="15.2"/><circle cx="415.3" cy="251.2" r="15.2"/><circle cx="420.1" cy="254.4" r="15.2"/><circle cx="424.9" cy="257.5" r="15.2"/><circle cx="429.7" cy="260.7" r="15.2"/><circle cx="434.5" cy="263.8" r="15.2"/><circle cx="439.3" cy="266.8" r="15.2"/><circle cx="444.1" cy="269.9" r="15.2"/><circle cx="448.9" cy="272.9" r="15.2"/><circle cx="453.7" cy="275.8" r="15.2"/><circle cx="458.5" cy="278.8" r="15.2"/><circle cx="463.3" cy="281.7" r="15.2"/><circle cx="468.1" cy="284.6" r="15.2"/><circle cx="472.8" cy="287.5" r="15.2"/><circle cx="477.6" cy="290.3" r="15.2"/><circle cx="482.4" cy="293.1" r="15.2"/><circle cx="487.2" cy="295.9" r="15.2"/><circle cx="492.0" cy="298.7" r="15.2"/><circle cx="496.8" cy="301.4" r="15.2"/><circle cx="501.6" cy="304.1" r="15.2"/><circle cx="506.4" cy="306.8" r="15.2"/><circle cx="511.2" cy="309.5" r="15.2"/><circle cx="516.0" cy="312.1" r="15.2"/><circle cx="520.8" cy="314.7" r="15.2"/><circle cx="525.6" cy="317.3" r="15.2"/><circle cx="530.3" cy="319.9" r="15.2"/><circle cx="535.1" cy="322.4" r="15.2"/><circle cx="539.9" cy="325.0" r="15.2"/><circle cx="544.7" cy="327.5" r="15.2"/><circle cx="549.5" cy="330.0" r="15.2"/><circle cx="554.3" cy="332.4" r="15.2"/><circle cx="559.1" cy="334.9" r="15.2"/><circle cx="563.9" cy="337.3" r="15.2"/><circle cx="568.7" cy="339.7" r="15.2"/><circle cx="573.5" cy="342.1" r="15.2"/><circle cx="578.3" cy="344.5" r="15.2"/><circle cx="583.1" cy="346.8" r="15.2"/><circle cx="587.8" cy="349.2" r="15.2"/><circle cx="592.6" cy="351.5" r="15.2"/><circle cx="597.4" cy="353.8" r="15.2"/><circle cx="602.2" cy="356.1" r="15.2"/><circle cx="607.0" cy="358.3" r="15.2"/><circle cx="611.8" cy="360.6" r="15.2"/><circle cx="616.6" cy="362.8" r="15.2"/><circle cx="621.4" cy="365.0" r="15.2"/><circle cx="626.2" cy="367.2" r="15.2"/><circle cx="631.0" cy="369.4" r="15.2"/><circle cx="635.8" cy="371.6" r="15.2"/><circle cx="640.6" cy="373.7" r="15.2"/><circle cx="645.4" cy="375.9" r="15.2"/><circle cx="650.1" cy="378.0" r="15.2"/><circle cx="654.9" cy="380.1" r="15.2"/><circle cx="659.7" cy="382.2" r="15.2"/><circle cx="664.5" cy="384.3" r="15.2"/><circle cx="669.3" cy="386.3" r="15.2"/><circle cx="674.1" cy="388.4" r="15.2"/><circle cx="678.9" cy="390.4" r="15.2"/><circle cx="683.7" cy="392.5" r="15.2"/><circle cx="688.5" cy="394.5" r="15.2"/><circle cx="693.3" cy="396.5" r="15.2"/><circle cx="698.1" cy="398.4" r="15.2"/><circle cx="702.9" cy="400.4" r="15.2"/><circle cx="707.6" cy="402.4" r="15.2"/><circle cx="712.4" cy="404.3" r="15.2"/><circle cx="717.2" cy="406.3" r="15.2"/><circle cx="722.0" cy="408.2" r="15.2"/><circle cx="726.8" cy="410.1" r="15.2"/><circle cx="731.6" cy="412.0" r="15.2"/><circle cx="736.4" cy="413.9" r="15.2"/><circle cx="741.2" cy="415.7" r="15.2"/><circle cx="746.0" cy="417.6" r="15.2"/><circle cx="750.8" cy="419.5" r="15.2"/><circle cx="755.6" cy="421.3" r="15.2"/><circle cx="760.4" cy="423.1" r="15.2"/><circle cx="765.1" cy="424.9" r="15.2"/><circle cx="769.9" cy="426.8" r="15.2"/><circle cx="774.7" cy="428.6" r="15.2"/><circle cx="779.5" cy="430.3" r="15.2"/><circle cx="784.3" cy="432.1" r="15.2"/><circle cx="789.1" cy="433.9" r="15.2"/><circle cx="793.9" cy="435.6" r="15.2"/><circle cx="798.7" cy="437.4" r="15.2"/><circle cx="803.5" cy="439.1" r="15.2"/><circle cx="808.3" cy="440.8" r="15.2"/><circle cx="813.1" cy="442.6" r="15.2"/><circle cx="817.9" cy="444.3" r="15.2"/><circle cx="822.7" cy="446.0" r="15.2"/><circle cx="827.4" cy="447.6" r="15.2"/><circle cx="832.2" cy="449.3" r="15.2"/><circle cx="837.0" cy="451.0" r="15.2"/><circle cx="841.8" cy="452.6" r="15.2"/><circle cx="846.6" cy="454.3" r="15.2"/><circle cx="851.4" cy="455.9" r="15.2"/><circle cx="856.2" cy="457.6" r="15.2"/><circle cx="861.0" cy="459.2" r="15.2"/><circle cx="865.8" cy="460.8" r="15.2"/><circle cx="870.6" cy="462.4" r="15.2"/><circle cx="875.4" cy="464.0" r="15.2"/><circle cx="880.2" cy="465.6" r="15.2"/><circle cx="884.9" cy="467.2" r="15.2"/><circle cx="889.7" cy="468.8" r="15.2"/><circle cx="894.5" cy="470.3" r="15.2"/><circle cx="899.3" cy="471.9" r="15.2"/><circle cx="904.1" cy="473.4" r="15.2"/><circle cx="908.9" cy="475.0" r="15.2"/><circle cx="913.7" cy="476.5" r="15.2"/><circle cx="918.5" cy="478.0" r="15.2"/><circle cx="923.3" cy="479.5" r="15.2"/><circle cx="928.1" cy="481.1" r="15.2"/><circle cx="932.9" cy="482.6" r="15.2"/><circle cx="937.7" cy="484.1" r="15.2"/><circle cx="942.4" cy="485.5" r="15.2"/><circle cx="947.2" cy="487.0" r="15.2"/><circle cx="952.0" cy="488.5" r="15.2"/><circle cx="956.8" cy="490.0" r="15.2"/><circle cx="961.6" cy="491.4" r="15.2"/><circle cx="966.4" cy="492.9" r="15.2"/><circle cx="971.2" cy="494.3" r="15.2"/><circle cx="976.0" cy="495.8" r="15.2"/><circle cx="980.8" cy="497.2" r="15.2"/><circle cx="985.6" cy="498.6" r="15.2"/><circle cx="990.4" cy="500.0" r="15.2"/><circle cx="995.2" cy="501.4" r="15.2"/><circle cx="1000.0" cy="502.9" r="15.2"/><circle cx="1004.7" cy="504.3" r="15.2"/><circle cx="1009.5" cy="505.6" r="15.2"/><circle cx="1014.3" cy="507.0" r="15.2"/><circle cx="1019.1" cy="508.4" r="15.2"/><circle cx="1023.9" cy="509.8" r="15.2"/><circle cx="1028.7" cy="511.2" r="15.2"/><circle cx="1033.5" cy="512.5" r="15.2"/><circle cx="1038.3" cy="513.9" r="15.2"/><circle cx="1043.1" cy="515.2" r="15.2"/><circle cx="1047.9" cy="516.6" r="15.2"/><circle cx="1052.7" cy="517.9" r="15.2"/><circle cx="1057.5" cy="519.2" r="15.2"/><circle cx="1062.2" cy="520.6" r="15.2"/><circle cx="1067.0" cy="521.9" r="15.2"/><circle cx="1071.8" cy="523.2" r="15.2"/><circle cx="1076.6" cy="524.5" r="15.2"/><circle cx="1081.4" cy="525.8" r="15.2"/><circle cx="1086.2" cy="527.1" r="15.2"/><circle cx="1091.0" cy="528.4" r="15.2"/><circle cx="1095.8" cy="529.7" r="15.2"/><circle cx="1100.6" cy="531.0" r="15.2"/><circle cx="1105.4" cy="532.2" r="15.2"/><circle cx="1110.2" cy="533.5" r="15.2"/><circle cx="1115.0" cy="534.8" r="15.2"/><circle cx="1119.7" cy="536.0" r="15.2"/><circle cx="1124.5" cy="537.3" r="15.2"/><circle cx="1129.3" cy="538.5" r="15.2"/><circle cx="1134.1" cy="539.8" r="15.2"/><circle cx="1138.9" cy="541.0" r="15.2"/><circle cx="1143.7" cy="542.3" r="15.2"/><circle cx="1148.5" cy="543.5" r="15.2"/><circle cx="1153.3" cy="544.7" r="15.2"/><circle cx="1158.1" cy="545.9" r="15.2"/><circle cx="1162.9" cy="547.1" r="15.2"/><circle cx="1167.7" cy="548.3" r="15.2"/><circle cx="1172.5" cy="549.6" r="15.2"/><circle cx="1177.3" cy="550.8" r="15.2"/><circle cx="1182.0" cy="551.9" r="15.2"/><circle cx="1186.8" cy="553.1" r="15.2"/><circle cx="1191.6" cy="554.3" r="15.2"/><circle cx="1196.4" cy="555.5" r="15.2"/><circle cx="1201.2" cy="556.7" r="15.2"/><circle cx="1206.0" cy="557.9" r="15.2"/><circle cx="1210.8" cy="559.0" r="15.2"/><circle cx="1215.6" cy="560.2" r="15.2"/><circle cx="1220.4" cy="561.3" r="15.2"/><circle cx="1225.2" cy="562.5" r="15.2"/><circle cx="1230.0" cy="563.6" r="15.2"/><circle cx="1234.8" cy="564.8" r="15.2"/><circle cx="1239.5" cy="565.9" r="15.2"/><circle cx="1244.3" cy="567.1" r="15.2"/><circle cx="1249.1" cy="568.2" r="15.2"/><circle cx="1253.9" cy="569.3" r="15.2"/><circle cx="1258.7" cy="570.5" r="15.2"/><circle cx="1263.5" cy="571.6" r="15.2"/><circle cx="1268.3" cy="572.7" r="15.2"/><circle cx="1273.1" cy="573.8" r="15.2"/><circle cx="1277.9" cy="574.9" r="15.2"/><circle cx="1282.7" cy="576.0" r="15.2"/><circle cx="1287.5" cy="577.1" r="15.2"/><circle cx="1292.3" cy="578.2" r="15.2"/><circle cx="1297.0" cy="579.3" r="15.2"/><circle cx="1301.8" cy="580.4" r="15.2"/><circle cx="1306.6" cy="581.5" r="15.2"/><circle cx="1311.4" cy="582.6" r="15.2"/><circle cx="1316.2" cy="583.6" r="15.2"/><circle cx="1321.0" cy="584.7" r="15.2"/><circle cx="1325.8" cy="585.8" r="15.2"/><circle cx="1330.6" cy="586.8" r="15.2"/><circle cx="1335.4" cy="587.9" r="15.2"/><circle cx="1340.2" cy="589.0" r="15.2"/><circle cx="1345.0" cy="590.0" r="15.2"/><circle cx="1349.8" cy="591.1" r="15.2"/><circle cx="1354.6" cy="592.1" r="15.2"/><circle cx="1359.3" cy="593.2" r="15.2"/><circle cx="1364.1" cy="594.2" r="15.2"/><circle cx="1368.9" cy="595.2" r="15.2"/><circle cx="1373.7" cy="596.3" r="15.2"/><circle cx="1378.5" cy="597.3" r="15.2"/><circle cx="1383.3" cy="598.3" r="15.2"/><circle cx="1388.1" cy="599.3" r="15.2"/><circle cx="1392.9" cy="600.4" r="15.2"/><circle cx="1397.7" cy="601.4" r="15.2"/><circle cx="1402.5" cy="602.4" r="15.2"/><circle cx="1407.3" cy="603.4" r="15.2"/><circle cx="1412.1" cy="604.4" r="15.2"/><circle cx="1416.8" cy="605.4" r="15.2"/><circle cx="1421.6" cy="606.4" r="15.2"/><circle cx="1426.4" cy="607.4" r="15.2"/><circle cx="1431.2" cy="608.4" r="15.2"/><circle cx="1436.0" cy="609.4" r="15.2"/><circle cx="1440.8" cy="610.4" r="15.2"/><circle cx="1445.6" cy="611.3" r="15.2"/><circle cx="1450.4" cy="612.3" r="15.2"/><circle cx="1455.2" cy="613.3" r="15.2"/><circle cx="1460.0" cy="614.3" r="15.2"/><circle cx="1464.8" cy="615.2" r="15.2"/><circle cx="1469.6" cy="616.2" r="15.2"/><circle cx="1474.3" cy="617.2" r="15.2"/><circle cx="1479.1" cy="618.1" r="15.2"/><circle cx="1483.9" cy="619.1" r="15.2"/><circle cx="1488.7" cy="620.1" r="15.2"/><circle cx="1493.5" cy="621.0" r="15.2"/><circle cx="1498.3" cy="622.0" r="15.2"/><circle cx="1503.1" cy="622.9" r="15.2"/><circle cx="1507.9" cy="623.8" r="15.2"/><circle cx="1512.7" cy="624.8" r="15.2"/><circle cx="1517.5" cy="625.7" r="15.2"/><circle cx="1522.3" cy="626.7" r="15.2"/><circle cx="1527.1" cy="627.6" r="15.2"/><circle cx="1531.9" cy="628.5" r="15.2"/><circle cx="1536.6" cy="629.4" r="15.2"/><circle cx="1541.4" cy="630.4" r="15.2"/><circle cx="1546.2" cy="631.3" r="15.2"/><circle cx="1551.0" cy="632.2" r="15.2"/><circle cx="1555.8" cy="633.1" r="15.2"/><circle cx="1560.6" cy="634.0" r="15.2"/><circle cx="1565.4" cy="634.9" r="15.2"/><circle cx="1570.2" cy="635.8" r="15.2"/><circle cx="1575.0" cy="636.7" r="15.2"/><circle cx="1579.8" cy="637.6" r="15.2"/><circle cx="1584.6" cy="638.5" r="15.2"/><circle cx="1589.4" cy="639.4" r="15.2"/><circle cx="1594.1" cy="640.3" r="15.2"/><circle cx="1598.9" cy="641.2" r="15.2"/><circle cx="1603.7" cy="642.1" r="15.2"/><circle cx="1608.5" cy="643.0" r="15.2"/><circle cx="1613.3" cy="643.9" r="15.2"/><circle cx="1618.1" cy="644.8" r="15.2"/><circle cx="1622.9" cy="645.6" r="15.2"/><circle cx="1627.7" cy="646.5" r="15.2"/><circle cx="1632.5" cy="647.4" r="15.2"/><circle cx="1637.3" cy="648.2" r="15.2"/><circle cx="1642.1" cy="649.1" r="15.2"/><circle cx="1646.9" cy="650.0" r="15.2"/><circle cx="1651.6" cy="650.8" r="15.2"/><circle cx="1656.4" cy="651.7" r="15.2"/><circle cx="1661.2" cy="652.6" r="15.2"/><circle cx="1666.0" cy="653.4" r="15.2"/><circle cx="1670.8" cy="654.3" r="15.2"/><circle cx="1675.6" cy="655.1" r="15.2"/><circle cx="1680.4" cy="656.0" r="15.2"/><circle cx="1685.2" cy="656.8" r="15.2"/><circle cx="1690.0" cy="657.7" r="15.2"/><circle cx="1694.8" cy="658.5" r="15.2"/><circle cx="1699.6" cy="659.3" r="15.2"/><circle cx="1704.4" cy="660.2" r="15.2"/><circle cx="1709.2" cy="661.0" r="15.2"/><circle cx="1713.9" cy="661.8" r="15.2"/><circle cx="1718.7" cy="662.7" r="15.2"/><circle cx="1723.5" cy="663.5" r="15.2"/><circle cx="1728.3" cy="664.3" r="15.2"/><circle cx="1733.1" cy="665.1" r="15.2"/><circle cx="1737.9" cy="666.0" r="15.2"/><circle cx="1742.7" cy="666.8" r="15.2"/><circle cx="1747.5" cy="667.6" r="15.2"/><circle cx="1752.3" cy="668.4" r="15.2"/><circle cx="1757.1" cy="669.2" r="15.2"/><circle cx="1761.9" cy="670.0" r="15.2"/><circle cx="1766.7" cy="670.8" r="15.2"/><circle cx="1771.4" cy="671.6" r="15.2"/><circle cx="1776.2" cy="672.5" r="15.2"/><circle cx="1781.0" cy="673.3" r="15.2"/><circle cx="1785.8" cy="674.1" r="15.2"/><circle cx="1790.6" cy="674.8" r="15.2"/><circle cx="1795.4" cy="675.6" r="15.2"/><circle cx="1800.2" cy="676.4" r="15.2"/><circle cx="1805.0" cy="677.2" r="15.2"/><circle cx="1809.8" cy="678.0" r="15.2"/><circle cx="1814.6" cy="678.8" r="15.2"/><circle cx="1819.4" cy="679.6" r="15.2"/><circle cx="1824.2" cy="680.4" r="15.2"/><circle cx="1828.9" cy="681.1" r="15.2"/><circle cx="1833.7" cy="681.9" r="15.2"/><circle cx="1838.5" cy="682.7" r="15.2"/><circle cx="1843.3" cy="683.5" r="15.2"/><circle cx="1848.1" cy="684.2" r="15.2"/><circle cx="1852.9" cy="685.0" r="15.2"/><circle cx="1857.7" cy="685.8" r="15.2"/><circle cx="1862.5" cy="686.6" r="15.2"/><circle cx="1867.3" cy="687.3" r="15.2"/><circle cx="1872.1" cy="688.1" r="15.2"/><circle cx="1876.9" cy="688.8" r="15.2"/><circle cx="1881.7" cy="689.6" r="15.2"/><circle cx="1886.5" cy="690.4" r="15.2"/><circle cx="1891.2" cy="691.1" r="15.2"/><circle cx="1896.0" cy="691.9" r="15.2"/><circle cx="1900.8" cy="692.6" r="15.2"/><circle cx="1905.6" cy="693.4" r="15.2"/><circle cx="1910.4" cy="694.1" r="15.2"/><circle cx="1915.2" cy="694.9" r="15.2"/><circle cx="1920.0" cy="695.6" r="15.2"/><circle cx="1924.8" cy="696.3" r="15.2"/><circle cx="1929.6" cy="697.1" r="15.2"/><circle cx="1934.4" cy="697.8" r="15.2"/><circle cx="1939.2" cy="698.6" r="15.2"/><circle cx="1944.0" cy="699.3" r="15.2"/><circle cx="1948.7" cy="700.0" r="15.2"/><circle cx="1953.5" cy="700.8" r="15.2"/><circle cx="1958.3" cy="701.5" r="15.2"/><circle cx="1963.1" cy="702.2" r="15.2"/><circle cx="1967.9" cy="702.9" r="15.2"/><circle cx="1972.7" cy="703.7" r="15.2"/><circle cx="1977.5" cy="704.4" r="15.2"/><circle cx="1982.3" cy="705.1" r="15.2"/><circle cx="1987.1" cy="705.8" r="15.2"/><circle cx="1991.9" cy="706.6" r="15.2"/><circle cx="1996.7" cy="707.3" r="15.2"/><circle cx="2001.5" cy="708.0" r="15.2"/><circle cx="2006.2" cy="708.7" r="15.2"/><circle cx="2011.0" cy="709.4" r="15.2"/><circle cx="2015.8" cy="710.1" r="15.2"/><circle cx="2020.6" cy="710.8" r="15.2"/><circle cx="2025.4" cy="711.5" r="15.2"/><circle cx="2030.2" cy="712.2" r="15.2"/><circle cx="2035.0" cy="712.9" r="15.2"/>
</g>
<rect x="215.15" y="48.35" width="1870.85" height="1396.65" fill="none" stroke="#000" stroke-width="5.6"/>
<g stroke="#000" stroke-width="5.4" fill="none">
<line x1="262.9" y1="1442.2" x2="262.9" y2="1418.9"/>
<line x1="454.8" y1="1442.2" x2="454.8" y2="1418.9"/>
<line x1="646.6" y1="1442.2" x2="646.6" y2="1418.9"/>
<line x1="838.5" y1="1442.2" x2="838.5" y2="1418.9"/>
<line x1="1030.3" y1="1442.2" x2="1030.3" y2="1418.9"/>
<line x1="1222.2" y1="1442.2" x2="1222.2" y2="1418.9"/>
<line x1="1414.0" y1="1442.2" x2="1414.0" y2="1418.9"/>
<line x1="1605.8" y1="1442.2" x2="1605.8" y2="1418.9"/>
<line x1="1797.7" y1="1442.2" x2="1797.7" y2="1418.9"/>
<line x1="1989.5" y1="1442.2" x2="1989.5" y2="1418.9"/>
<line x1="326.9" y1="1442.2" x2="326.9" y2="1432.2"/>
<line x1="390.8" y1="1442.2" x2="390.8" y2="1432.2"/>
<line x1="518.7" y1="1442.2" x2="518.7" y2="1432.2"/>
<line x1="582.7" y1="1442.2" x2="582.7" y2="1432.2"/>
<line x1="710.6" y1="1442.2" x2="710.6" y2="1432.2"/>
<line x1="774.5" y1="1442.2" x2="774.5" y2="1432.2"/>
<line x1="902.4" y1="1442.2" x2="902.4" y2="1432.2"/>
<line x1="966.4" y1="1442.2" x2="966.4" y2="1432.2"/>
<line x1="1094.3" y1="1442.2" x2="1094.3" y2="1432.2"/>
<line x1="1158.2" y1="1442.2" x2="1158.2" y2="1432.2"/>
<line x1="1286.1" y1="1442.2" x2="1286.1" y2="1432.2"/>
<line x1="1350.0" y1="1442.2" x2="1350.0" y2="1432.2"/>
<line x1="1477.9" y1="1442.2" x2="1477.9" y2="1432.2"/>
<line x1="1541.9" y1="1442.2" x2="1541.9" y2="1432.2"/>
<line x1="1669.8" y1="1442.2" x2="1669.8" y2="1432.2"/>
<line x1="1733.7" y1="1442.2" x2="1733.7" y2="1432.2"/>
<line x1="1861.6" y1="1442.2" x2="1861.6" y2="1432.2"/>
<line x1="1925.6" y1="1442.2" x2="1925.6" y2="1432.2"/>
<line x1="2053.5" y1="1442.2" x2="2053.5" y2="1432.2"/>
<line x1="218.0" y1="1376.1" x2="242.8" y2="1376.1"/>
<line x1="218.0" y1="1271.2" x2="242.8" y2="1271.2"/>
<line x1="218.0" y1="1166.3" x2="242.8" y2="1166.3"/>
<line x1="218.0" y1="1061.5" x2="242.8" y2="1061.5"/>
<line x1="218.0" y1="956.6" x2="242.8" y2="956.6"/>
<line x1="218.0" y1="851.8" x2="242.8" y2="851.8"/>
<line x1="218.0" y1="746.9" x2="242.8" y2="746.9"/>
<line x1="218.0" y1="642.0" x2="242.8" y2="642.0"/>
<line x1="218.0" y1="537.2" x2="242.8" y2="537.2"/>
<line x1="218.0" y1="432.3" x2="242.8" y2="432.3"/>
<line x1="218.0" y1="327.5" x2="242.8" y2="327.5"/>
<line x1="218.0" y1="222.6" x2="242.8" y2="222.6"/>
<line x1="218.0" y1="117.8" x2="242.8" y2="117.8"/>
<line x1="218.0" y1="1411.0" x2="228.0" y2="1411.0"/>
<line x1="218.0" y1="1341.1" x2="228.0" y2="1341.1"/>
<line x1="218.0" y1="1306.2" x2="228.0" y2="1306.2"/>
<line x1="218.0" y1="1236.2" x2="228.0" y2="1236.2"/>
<line x1="218.0" y1="1201.3" x2="228.0" y2="1201.3"/>
<line x1="218.0" y1="1131.4" x2="228.0" y2="1131.4"/>
<line x1="218.0" y1="1096.4" x2="228.0" y2="1096.4"/>
<line x1="218.0" y1="1026.5" x2="228.0" y2="1026.5"/>
<line x1="218.0" y1="991.6" x2="228.0" y2="991.6"/>
<line x1="218.0" y1="921.7" x2="228.0" y2="921.7"/>
<line x1="218.0" y1="886.7" x2="228.0" y2="886.7"/>
<line x1="218.0" y1="816.8" x2="228.0" y2="816.8"/>
<line x1="218.0" y1="781.9" x2="228.0" y2="781.9"/>
<line x1="218.0" y1="712.0" x2="228.0" y2="712.0"/>
<line x1="218.0" y1="677.0" x2="228.0" y2="677.0"/>
<line x1="218.0" y1="607.1" x2="228.0" y2="607.1"/>
<line x1="218.0" y1="572.1" x2="228.0" y2="572.1"/>
<line x1="218.0" y1="502.2" x2="228.0" y2="502.2"/>
<line x1="218.0" y1="467.3" x2="228.0" y2="467.3"/>
<line x1="218.0" y1="397.4" x2="228.0" y2="397.4"/>
<line x1="218.0" y1="362.4" x2="228.0" y2="362.4"/>
<line x1="218.0" y1="292.5" x2="228.0" y2="292.5"/>
<line x1="218.0" y1="257.6" x2="228.0" y2="257.6"/>
<line x1="218.0" y1="187.7" x2="228.0" y2="187.7"/>
<line x1="218.0" y1="152.7" x2="228.0" y2="152.7"/>
<line x1="218.0" y1="82.8" x2="228.0" y2="82.8"/>
</g>
<g font-size="61">
<text x="262.9" y="1519.5" text-anchor="middle">8</text>
<text x="454.8" y="1519.5" text-anchor="middle">12</text>
<text x="646.6" y="1519.5" text-anchor="middle">16</text>
<text x="838.5" y="1519.5" text-anchor="middle">20</text>
<text x="1030.3" y="1519.5" text-anchor="middle">24</text>
<text x="1222.2" y="1519.5" text-anchor="middle">28</text>
<text x="1414.0" y="1519.5" text-anchor="middle">32</text>
<text x="1605.8" y="1519.5" text-anchor="middle">36</text>
<text x="1797.7" y="1519.5" text-anchor="middle">40</text>
<text x="1989.5" y="1519.5" text-anchor="middle">44</text>
<text x="183" y="1393.2" text-anchor="end">57</text>
<text x="183" y="1288.3" text-anchor="end">60</text>
<text x="183" y="1183.4" text-anchor="end">63</text>
<text x="183" y="1078.6" text-anchor="end">66</text>
<text x="183" y="973.7" text-anchor="end">69</text>
<text x="183" y="868.9" text-anchor="end">72</text>
<text x="183" y="764.0" text-anchor="end">75</text>
<text x="183" y="659.1" text-anchor="end">78</text>
<text x="183" y="554.3" text-anchor="end">81</text>
<text x="183" y="449.4" text-anchor="end">84</text>
<text x="183" y="344.6" text-anchor="end">87</text>
<text x="183" y="239.7" text-anchor="end">90</text>
<text x="183" y="134.8" text-anchor="end">93</text>
</g>
<text x="414.4" y="1627.6" font-size="72.3">Distance of cislunar spacecraft from Earth/ 10<tspan font-size="50" dy="-29.7">4</tspan><tspan dy="29.7"> km</tspan></text>
<text transform="translate(90,1338) rotate(-90)" font-size="72.7">Carrier-to-noise ratio(C/N<tspan dy="18.4">0</tspan><tspan dy="-18.4">)/dB-HZ</tspan></text>
<line x1="1638" y1="93.1" x2="1680" y2="93.1" stroke="#00e000" stroke-width="2"/>
<line x1="1717" y1="93.1" x2="1759" y2="93.1" stroke="#00e000" stroke-width="2"/>
<circle cx="1696.2" cy="91.5" r="15.2" fill="url(#rg)"/>
<text x="1771" y="109.8" font-size="54">RCS = 9 m<tspan font-size="38" dy="-22.3">2</tspan></text>
<line x1="1638" y1="167.5" x2="1680" y2="167.5" stroke="#17e0e0" stroke-width="2"/>
<line x1="1717" y1="167.5" x2="1759" y2="167.5" stroke="#17e0e0" stroke-width="2"/>
<circle cx="1696.2" cy="165.9" r="15.2" fill="url(#rc)"/>
<text x="1771" y="184.2" font-size="54">RCS = 7 m<tspan font-size="38" dy="-22.3">2</tspan></text>
<line x1="1638" y1="241.9" x2="1680" y2="241.9" stroke="#e07100" stroke-width="2"/>
<line x1="1717" y1="241.9" x2="1759" y2="241.9" stroke="#e07100" stroke-width="2"/>
<circle cx="1696.2" cy="240.3" r="15.2" fill="url(#ro)"/>
<text x="1771" y="258.6" font-size="54">RCS = 5 m<tspan font-size="38" dy="-22.3">2</tspan></text>
<line x1="1638" y1="316.3" x2="1680" y2="316.3" stroke="#e0e000" stroke-width="2"/>
<line x1="1717" y1="316.3" x2="1759" y2="316.3" stroke="#e0e000" stroke-width="2"/>
<circle cx="1696.2" cy="314.7" r="15.2" fill="url(#ry)"/>
<text x="1771" y="333.0" font-size="54">RCS = 3 m<tspan font-size="38" dy="-22.3">2</tspan></text>
<line x1="1638" y1="390.7" x2="1680" y2="390.7" stroke="#7100e0" stroke-width="2"/>
<line x1="1717" y1="390.7" x2="1759" y2="390.7" stroke="#7100e0" stroke-width="2"/>
<circle cx="1696.2" cy="389.1" r="15.2" fill="url(#rp)"/>
<text x="1771" y="407.4" font-size="54">RCS = 1 m<tspan font-size="38" dy="-22.3">2</tspan></text>
<line x1="1638" y1="465.1" x2="1680" y2="465.1" stroke="#e09292" stroke-width="2"/>
<line x1="1717" y1="465.1" x2="1759" y2="465.1" stroke="#e09292" stroke-width="2"/>
<circle cx="1696.2" cy="463.5" r="15.2" fill="url(#rk)"/>
<text x="1771" y="481.8" font-size="54">RCS = 0.5 m<tspan font-size="38" dy="-22.3">2</tspan></text>
<line x1="1638" y1="539.5" x2="1680" y2="539.5" stroke="#00b4b4" stroke-width="2"/>
<line x1="1717" y1="539.5" x2="1759" y2="539.5" stroke="#00b4b4" stroke-width="2"/>
<circle cx="1696.2" cy="537.9" r="15.2" fill="url(#rt)"/>
<text x="1771" y="556.2" font-size="54">RCS = 0.1 m<tspan font-size="38" dy="-22.3">2</tspan></text>
</svg></body></html>
